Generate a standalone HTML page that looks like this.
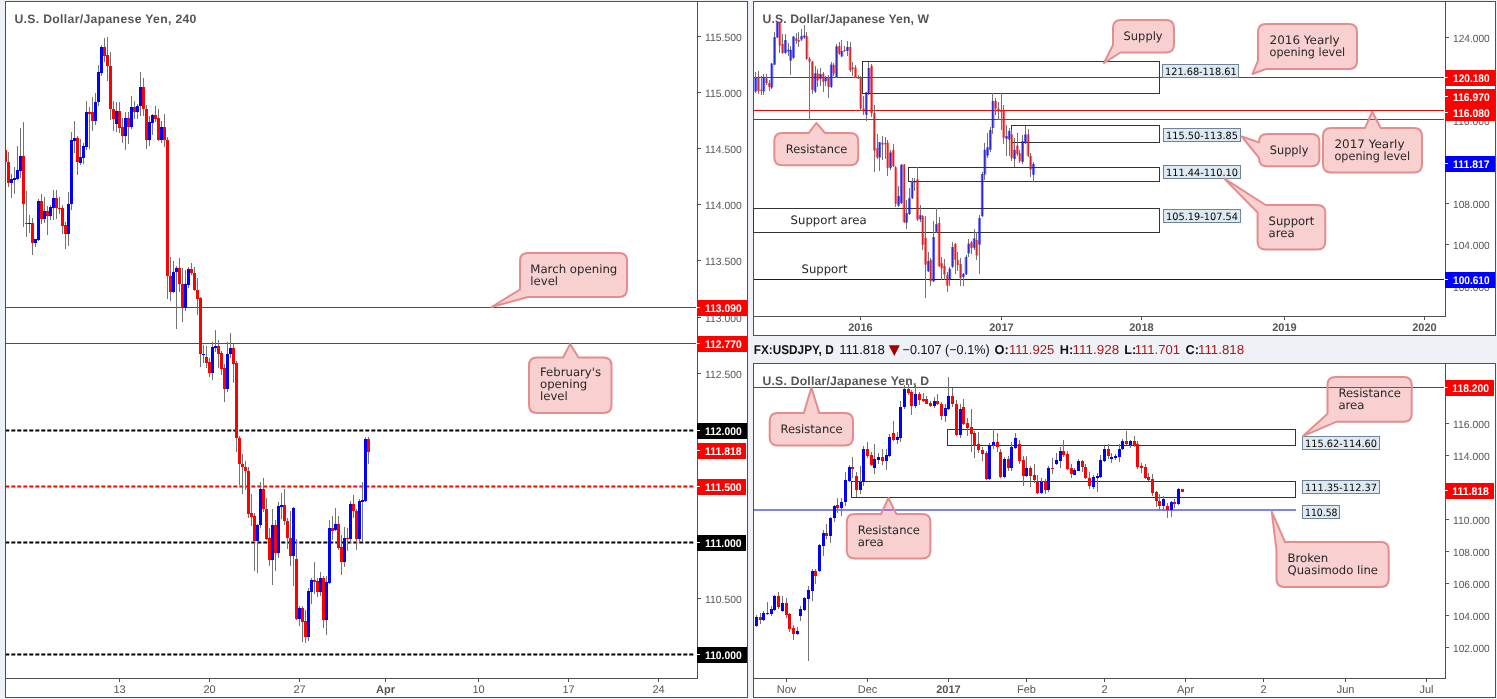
<!DOCTYPE html>
<html><head><meta charset="utf-8"><title>USDJPY charts</title>
<style>html,body{margin:0;padding:0;background:#eef2f6;}svg{display:block;will-change:transform;}</style></head>
<body><svg width="1497" height="699" viewBox="0 0 1497 699" shape-rendering="crispEdges" text-rendering="geometricPrecision">
<rect x="0" y="0" width="1497" height="699" fill="#eef2f6"/>
<defs><clipPath id="cL"><rect x="6" y="2" width="691" height="676"/></clipPath><clipPath id="cTR"><rect x="754" y="2" width="691" height="314"/></clipPath><clipPath id="cBR"><rect x="754" y="364" width="691" height="314"/></clipPath></defs>
<rect x="5" y="1" width="743" height="697" fill="#ffffff"/>
<rect x="5" y="1" width="743" height="1" fill="#505050"/>
<rect x="5" y="697" width="743" height="1" fill="#505050"/>
<rect x="5" y="1" width="1" height="697" fill="#505050"/>
<rect x="747" y="1" width="1" height="697" fill="#505050"/>
<text x="14.4" y="23" font-size="12.2" fill="#555555" font-weight="bold" textLength="182" lengthAdjust="spacing" font-family="'Liberation Sans', Arial, sans-serif">U.S. Dollar/Japanese Yen, 240</text>
<rect x="697" y="1" width="1" height="678" fill="#505050"/>
<rect x="5" y="678" width="693" height="1" fill="#505050"/>
<rect x="698" y="654" width="3" height="1" fill="#505050"/>
<text x="705" y="658.5" font-size="10.5" fill="#555555" textLength="36.7" lengthAdjust="spacingAndGlyphs" font-family="'Liberation Sans', Arial, sans-serif">110.000</text>
<rect x="698" y="598" width="3" height="1" fill="#505050"/>
<text x="705" y="602.5" font-size="10.5" fill="#555555" textLength="36.7" lengthAdjust="spacingAndGlyphs" font-family="'Liberation Sans', Arial, sans-serif">110.500</text>
<rect x="698" y="542" width="3" height="1" fill="#505050"/>
<text x="705" y="546.5" font-size="10.5" fill="#555555" textLength="36.7" lengthAdjust="spacingAndGlyphs" font-family="'Liberation Sans', Arial, sans-serif">111.000</text>
<rect x="698" y="485" width="3" height="1" fill="#505050"/>
<text x="705" y="489.5" font-size="10.5" fill="#555555" textLength="36.7" lengthAdjust="spacingAndGlyphs" font-family="'Liberation Sans', Arial, sans-serif">111.500</text>
<rect x="698" y="429" width="3" height="1" fill="#505050"/>
<text x="705" y="433.5" font-size="10.5" fill="#555555" textLength="36.7" lengthAdjust="spacingAndGlyphs" font-family="'Liberation Sans', Arial, sans-serif">112.000</text>
<rect x="698" y="373" width="3" height="1" fill="#505050"/>
<text x="705" y="377.5" font-size="10.5" fill="#555555" textLength="36.7" lengthAdjust="spacingAndGlyphs" font-family="'Liberation Sans', Arial, sans-serif">112.500</text>
<rect x="698" y="317" width="3" height="1" fill="#505050"/>
<text x="705" y="321.5" font-size="10.5" fill="#555555" textLength="36.7" lengthAdjust="spacingAndGlyphs" font-family="'Liberation Sans', Arial, sans-serif">113.000</text>
<rect x="698" y="260" width="3" height="1" fill="#505050"/>
<text x="705" y="264.5" font-size="10.5" fill="#555555" textLength="36.7" lengthAdjust="spacingAndGlyphs" font-family="'Liberation Sans', Arial, sans-serif">113.500</text>
<rect x="698" y="204" width="3" height="1" fill="#505050"/>
<text x="705" y="208.5" font-size="10.5" fill="#555555" textLength="36.7" lengthAdjust="spacingAndGlyphs" font-family="'Liberation Sans', Arial, sans-serif">114.000</text>
<rect x="698" y="148" width="3" height="1" fill="#505050"/>
<text x="705" y="152.5" font-size="10.5" fill="#555555" textLength="36.7" lengthAdjust="spacingAndGlyphs" font-family="'Liberation Sans', Arial, sans-serif">114.500</text>
<rect x="698" y="92" width="3" height="1" fill="#505050"/>
<text x="705" y="96.5" font-size="10.5" fill="#555555" textLength="36.7" lengthAdjust="spacingAndGlyphs" font-family="'Liberation Sans', Arial, sans-serif">115.000</text>
<rect x="698" y="36" width="3" height="1" fill="#505050"/>
<text x="705" y="40.5" font-size="10.5" fill="#555555" textLength="36.7" lengthAdjust="spacingAndGlyphs" font-family="'Liberation Sans', Arial, sans-serif">115.500</text>
<rect x="119" y="679" width="1" height="3" fill="#505050"/>
<text x="119.5" y="692.6" font-size="11" fill="#555555" text-anchor="middle" font-family="'Liberation Sans', Arial, sans-serif">13</text>
<rect x="209" y="679" width="1" height="3" fill="#505050"/>
<text x="209.5" y="692.6" font-size="11" fill="#555555" text-anchor="middle" font-family="'Liberation Sans', Arial, sans-serif">20</text>
<rect x="299" y="679" width="1" height="3" fill="#505050"/>
<text x="299.5" y="692.6" font-size="11" fill="#555555" text-anchor="middle" font-family="'Liberation Sans', Arial, sans-serif">27</text>
<rect x="385" y="679" width="1" height="3" fill="#505050"/>
<text x="385.5" y="692.6" font-size="11" fill="#555555" font-weight="bold" text-anchor="middle" font-family="'Liberation Sans', Arial, sans-serif">Apr</text>
<rect x="478" y="679" width="1" height="3" fill="#505050"/>
<text x="478.5" y="692.6" font-size="11" fill="#555555" text-anchor="middle" font-family="'Liberation Sans', Arial, sans-serif">10</text>
<rect x="568" y="679" width="1" height="3" fill="#505050"/>
<text x="568.5" y="692.6" font-size="11" fill="#555555" text-anchor="middle" font-family="'Liberation Sans', Arial, sans-serif">17</text>
<rect x="658" y="679" width="1" height="3" fill="#505050"/>
<text x="658.5" y="692.6" font-size="11" fill="#555555" text-anchor="middle" font-family="'Liberation Sans', Arial, sans-serif">24</text>
<rect x="6" y="307" width="690" height="1" fill="#ff0000"/>
<rect x="6" y="343" width="690" height="1" fill="#ff0000"/>
<line x1="-0.7" y1="430.5" x2="694.5" y2="430.5" stroke="#000000" stroke-width="2" stroke-dasharray="4 2" shape-rendering="geometricPrecision" clip-path="url(#cL)"/>
<line x1="-0.7" y1="542.5" x2="694.5" y2="542.5" stroke="#000000" stroke-width="2" stroke-dasharray="4 2" shape-rendering="geometricPrecision" clip-path="url(#cL)"/>
<line x1="-0.7" y1="654.5" x2="694.5" y2="654.5" stroke="#000000" stroke-width="2" stroke-dasharray="4 2" shape-rendering="geometricPrecision" clip-path="url(#cL)"/>
<line x1="-0.7" y1="486.5" x2="694.5" y2="486.5" stroke="#ff0000" stroke-width="2" stroke-dasharray="4 2" shape-rendering="geometricPrecision" clip-path="url(#cL)"/>
<g clip-path="url(#cL)">
<rect x="5.00" y="147" width="1" height="16" fill="#737373"/>
<rect x="8.00" y="152" width="1" height="35" fill="#737373"/>
<rect x="11.00" y="173.5" width="1" height="24.0" fill="#737373"/>
<rect x="14.00" y="167" width="1" height="26.599999999999994" fill="#737373"/>
<rect x="17.00" y="146" width="1" height="34" fill="#737373"/>
<rect x="20.00" y="128.2" width="1" height="49.80000000000001" fill="#737373"/>
<rect x="23.00" y="122.1" width="1" height="104.70000000000002" fill="#737373"/>
<rect x="26.00" y="191" width="1" height="45.599999999999994" fill="#737373"/>
<rect x="29.00" y="215" width="1" height="17.80000000000001" fill="#737373"/>
<rect x="32.00" y="218" width="1" height="36.80000000000001" fill="#737373"/>
<rect x="35.00" y="238.8" width="1" height="7.699999999999989" fill="#737373"/>
<rect x="38.00" y="199.3" width="1" height="41.19999999999999" fill="#737373"/>
<rect x="41.00" y="194" width="1" height="30" fill="#737373"/>
<rect x="44.00" y="197" width="1" height="25.5" fill="#737373"/>
<rect x="47.00" y="206" width="1" height="29" fill="#737373"/>
<rect x="50.00" y="205" width="1" height="15" fill="#737373"/>
<rect x="53.00" y="189.5" width="1" height="30.5" fill="#737373"/>
<rect x="56.00" y="190" width="1" height="28.69999999999999" fill="#737373"/>
<rect x="59.00" y="197" width="1" height="16.900000000000006" fill="#737373"/>
<rect x="62.00" y="205" width="1" height="28.599999999999994" fill="#737373"/>
<rect x="65.00" y="222" width="1" height="27" fill="#737373"/>
<rect x="68.00" y="192.4" width="1" height="53.29999999999998" fill="#737373"/>
<rect x="71.00" y="132.1" width="1" height="78.30000000000001" fill="#737373"/>
<rect x="74.00" y="121" width="1" height="31.80000000000001" fill="#737373"/>
<rect x="77.00" y="136" width="1" height="39" fill="#737373"/>
<rect x="80.00" y="139" width="1" height="26" fill="#737373"/>
<rect x="83.00" y="142.5" width="1" height="21.5" fill="#737373"/>
<rect x="86.00" y="100.7" width="1" height="49.3" fill="#737373"/>
<rect x="89.00" y="107.3" width="1" height="41.2" fill="#737373"/>
<rect x="92.00" y="97" width="1" height="34.30000000000001" fill="#737373"/>
<rect x="95.00" y="93.2" width="1" height="31.599999999999994" fill="#737373"/>
<rect x="98.00" y="65.2" width="1" height="41.2" fill="#737373"/>
<rect x="101.00" y="44.6" width="1" height="31.800000000000004" fill="#737373"/>
<rect x="104.00" y="37.7" width="1" height="24.299999999999997" fill="#737373"/>
<rect x="107.00" y="36.9" width="1" height="43.699999999999996" fill="#737373"/>
<rect x="110.00" y="52" width="1" height="68.1" fill="#737373"/>
<rect x="113.00" y="100.7" width="1" height="30.60000000000001" fill="#737373"/>
<rect x="116.00" y="101.8" width="1" height="30.299999999999997" fill="#737373"/>
<rect x="119.00" y="102.1" width="1" height="30.900000000000006" fill="#737373"/>
<rect x="122.00" y="117.9" width="1" height="25.400000000000006" fill="#737373"/>
<rect x="125.00" y="112" width="1" height="38" fill="#737373"/>
<rect x="128.00" y="112" width="1" height="32.19999999999999" fill="#737373"/>
<rect x="131.00" y="96.1" width="1" height="32.599999999999994" fill="#737373"/>
<rect x="134.00" y="101.2" width="1" height="17.799999999999997" fill="#737373"/>
<rect x="137.00" y="104.2" width="1" height="15.099999999999994" fill="#737373"/>
<rect x="140.00" y="72" width="1" height="43.8" fill="#737373"/>
<rect x="143.00" y="78" width="1" height="37.8" fill="#737373"/>
<rect x="146.00" y="104.7" width="1" height="43.8" fill="#737373"/>
<rect x="149.00" y="116.3" width="1" height="29.700000000000003" fill="#737373"/>
<rect x="152.00" y="114" width="1" height="21.19999999999999" fill="#737373"/>
<rect x="155.00" y="106" width="1" height="16.299999999999997" fill="#737373"/>
<rect x="158.00" y="108.9" width="1" height="32.0" fill="#737373"/>
<rect x="161.00" y="121" width="1" height="21.900000000000006" fill="#737373"/>
<rect x="164.00" y="114" width="1" height="32.69999999999999" fill="#737373"/>
<rect x="167.00" y="136.9" width="1" height="162.1" fill="#737373"/>
<rect x="170.00" y="256.9" width="1" height="43.80000000000001" fill="#737373"/>
<rect x="173.00" y="261.2" width="1" height="31.80000000000001" fill="#737373"/>
<rect x="176.00" y="266" width="1" height="62.5" fill="#737373"/>
<rect x="179.00" y="258.1" width="1" height="33.69999999999999" fill="#737373"/>
<rect x="182.00" y="268.4" width="1" height="53.200000000000045" fill="#737373"/>
<rect x="185.00" y="270.1" width="1" height="40.89999999999998" fill="#737373"/>
<rect x="188.00" y="266.7" width="1" height="21.100000000000023" fill="#737373"/>
<rect x="191.00" y="262.9" width="1" height="12.100000000000023" fill="#737373"/>
<rect x="194.00" y="266.7" width="1" height="24.30000000000001" fill="#737373"/>
<rect x="197.00" y="278" width="1" height="36.80000000000001" fill="#737373"/>
<rect x="200.00" y="296.9" width="1" height="69.80000000000001" fill="#737373"/>
<rect x="203.00" y="345.4" width="1" height="17.200000000000045" fill="#737373"/>
<rect x="206.00" y="346.1" width="1" height="22.299999999999955" fill="#737373"/>
<rect x="209.00" y="358" width="1" height="18.69999999999999" fill="#737373"/>
<rect x="212.00" y="342.3" width="1" height="37.39999999999998" fill="#737373"/>
<rect x="215.00" y="330" width="1" height="21.80000000000001" fill="#737373"/>
<rect x="218.00" y="340.3" width="1" height="27.80000000000001" fill="#737373"/>
<rect x="221.00" y="351" width="1" height="23.600000000000023" fill="#737373"/>
<rect x="224.00" y="364.3" width="1" height="37.19999999999999" fill="#737373"/>
<rect x="227.00" y="342" width="1" height="49.80000000000001" fill="#737373"/>
<rect x="230.00" y="332.9" width="1" height="24.900000000000034" fill="#737373"/>
<rect x="233.00" y="343.7" width="1" height="39.0" fill="#737373"/>
<rect x="236.00" y="361" width="1" height="90.5" fill="#737373"/>
<rect x="239.00" y="436" width="1" height="49" fill="#737373"/>
<rect x="242.00" y="454" width="1" height="40.39999999999998" fill="#737373"/>
<rect x="245.00" y="461.2" width="1" height="29.19999999999999" fill="#737373"/>
<rect x="248.00" y="466.9" width="1" height="50.700000000000045" fill="#737373"/>
<rect x="251.00" y="494.4" width="1" height="31.700000000000045" fill="#737373"/>
<rect x="254.00" y="513.3" width="1" height="57.60000000000002" fill="#737373"/>
<rect x="257.00" y="523.6" width="1" height="49.0" fill="#737373"/>
<rect x="260.00" y="481.5" width="1" height="46.5" fill="#737373"/>
<rect x="263.00" y="478.4" width="1" height="33.60000000000002" fill="#737373"/>
<rect x="266.00" y="498.3" width="1" height="41.69999999999999" fill="#737373"/>
<rect x="269.00" y="528.2" width="1" height="38.19999999999993" fill="#737373"/>
<rect x="272.00" y="509.3" width="1" height="75.30000000000001" fill="#737373"/>
<rect x="275.00" y="520" width="1" height="50.89999999999998" fill="#737373"/>
<rect x="278.00" y="502.1" width="1" height="56.19999999999993" fill="#737373"/>
<rect x="281.00" y="493.2" width="1" height="26.099999999999966" fill="#737373"/>
<rect x="284.00" y="489.2" width="1" height="35.80000000000001" fill="#737373"/>
<rect x="287.00" y="517.9" width="1" height="30.600000000000023" fill="#737373"/>
<rect x="290.00" y="511" width="1" height="55" fill="#737373"/>
<rect x="293.00" y="507" width="1" height="78.79999999999995" fill="#737373"/>
<rect x="296.00" y="539.4" width="1" height="80.60000000000002" fill="#737373"/>
<rect x="299.00" y="605.5" width="1" height="20.600000000000023" fill="#737373"/>
<rect x="302.00" y="606" width="1" height="35.89999999999998" fill="#737373"/>
<rect x="305.00" y="609.8" width="1" height="33.200000000000045" fill="#737373"/>
<rect x="308.00" y="588" width="1" height="53.200000000000045" fill="#737373"/>
<rect x="311.00" y="578.4" width="1" height="25.399999999999977" fill="#737373"/>
<rect x="314.00" y="561.8" width="1" height="31.700000000000045" fill="#737373"/>
<rect x="317.00" y="578" width="1" height="19" fill="#737373"/>
<rect x="320.00" y="572" width="1" height="24" fill="#737373"/>
<rect x="323.00" y="576.4" width="1" height="51.5" fill="#737373"/>
<rect x="326.00" y="576" width="1" height="58.700000000000045" fill="#737373"/>
<rect x="329.00" y="520" width="1" height="64" fill="#737373"/>
<rect x="332.00" y="515.8" width="1" height="23.90000000000009" fill="#737373"/>
<rect x="335.00" y="507.9" width="1" height="23.100000000000023" fill="#737373"/>
<rect x="338.00" y="516.1" width="1" height="33.39999999999998" fill="#737373"/>
<rect x="341.00" y="535.1" width="1" height="39.5" fill="#737373"/>
<rect x="344.00" y="526.5" width="1" height="40.200000000000045" fill="#737373"/>
<rect x="347.00" y="527.7" width="1" height="22.899999999999977" fill="#737373"/>
<rect x="350.00" y="500.7" width="1" height="42.50000000000006" fill="#737373"/>
<rect x="353.00" y="495.2" width="1" height="22.69999999999999" fill="#737373"/>
<rect x="356.00" y="509" width="1" height="40.5" fill="#737373"/>
<rect x="359.00" y="499.3" width="1" height="42.19999999999999" fill="#737373"/>
<rect x="362.00" y="482.1" width="1" height="60.19999999999993" fill="#737373"/>
<rect x="365.00" y="437.2" width="1" height="64.30000000000001" fill="#737373"/>
<rect x="368.00" y="437" width="1" height="26.80000000000001" fill="#737373"/>
<rect x="4.00" y="150.3" width="3" height="11.199999999999989" fill="#ff0000"/>
<rect x="7.00" y="161.5" width="3" height="21.099999999999994" fill="#ff0000"/>
<rect x="10.00" y="179" width="3" height="3.5999999999999943" fill="#0000ff"/>
<rect x="13.00" y="178" width="3" height="2" fill="#0000ff"/>
<rect x="16.00" y="170" width="3" height="8.699999999999989" fill="#0000ff"/>
<rect x="19.00" y="156" width="3" height="14.599999999999994" fill="#0000ff"/>
<rect x="22.00" y="156" width="3" height="47.599999999999994" fill="#ff0000"/>
<rect x="25.00" y="222.5" width="3" height="1.5" fill="#ff0000"/>
<rect x="28.00" y="223.3" width="3" height="1" fill="#0000ff"/>
<rect x="31.00" y="223.3" width="3" height="19.399999999999977" fill="#ff0000"/>
<rect x="34.00" y="239.3" width="3" height="3.3999999999999773" fill="#0000ff"/>
<rect x="37.00" y="201" width="3" height="38.599999999999994" fill="#0000ff"/>
<rect x="40.00" y="201" width="3" height="18" fill="#ff0000"/>
<rect x="43.00" y="211" width="3" height="8" fill="#0000ff"/>
<rect x="46.00" y="211" width="3" height="4.599999999999994" fill="#ff0000"/>
<rect x="49.00" y="207" width="3" height="8.599999999999994" fill="#0000ff"/>
<rect x="52.00" y="198" width="3" height="9.900000000000006" fill="#0000ff"/>
<rect x="55.00" y="198" width="3" height="10.400000000000006" fill="#ff0000"/>
<rect x="58.00" y="207.9" width="3" height="1" fill="#ff0000"/>
<rect x="61.00" y="208.4" width="3" height="17.19999999999999" fill="#ff0000"/>
<rect x="64.00" y="225" width="3" height="8.599999999999994" fill="#ff0000"/>
<rect x="67.00" y="204.4" width="3" height="29.19999999999999" fill="#0000ff"/>
<rect x="70.00" y="139.9" width="3" height="64.5" fill="#0000ff"/>
<rect x="73.00" y="138.2" width="3" height="2.5" fill="#0000ff"/>
<rect x="76.00" y="138.2" width="3" height="24.100000000000023" fill="#ff0000"/>
<rect x="79.00" y="157" width="3" height="5.699999999999989" fill="#0000ff"/>
<rect x="82.00" y="146.4" width="3" height="11.299999999999983" fill="#0000ff"/>
<rect x="85.00" y="112" width="3" height="34.80000000000001" fill="#0000ff"/>
<rect x="88.00" y="112.4" width="3" height="1.3999999999999915" fill="#ff0000"/>
<rect x="91.00" y="112" width="3" height="9" fill="#ff0000"/>
<rect x="94.00" y="102.1" width="3" height="18.900000000000006" fill="#0000ff"/>
<rect x="97.00" y="72" width="3" height="30.400000000000006" fill="#0000ff"/>
<rect x="100.00" y="46.8" width="3" height="25.799999999999997" fill="#0000ff"/>
<rect x="103.00" y="46.8" width="3" height="9.0" fill="#ff0000"/>
<rect x="106.00" y="54.9" width="3" height="11.500000000000007" fill="#ff0000"/>
<rect x="109.00" y="66" width="3" height="43.3" fill="#ff0000"/>
<rect x="112.00" y="109" width="3" height="9.900000000000006" fill="#ff0000"/>
<rect x="115.00" y="111" width="3" height="13.400000000000006" fill="#0000ff"/>
<rect x="118.00" y="111" width="3" height="16.900000000000006" fill="#ff0000"/>
<rect x="121.00" y="127" width="3" height="9.400000000000006" fill="#ff0000"/>
<rect x="124.00" y="117.9" width="3" height="18.5" fill="#0000ff"/>
<rect x="127.00" y="117.9" width="3" height="8.599999999999994" fill="#ff0000"/>
<rect x="130.00" y="106.9" width="3" height="19.599999999999994" fill="#0000ff"/>
<rect x="133.00" y="106.9" width="3" height="5.5" fill="#ff0000"/>
<rect x="136.00" y="106" width="3" height="6.400000000000006" fill="#0000ff"/>
<rect x="139.00" y="87" width="3" height="19.400000000000006" fill="#0000ff"/>
<rect x="142.00" y="87" width="3" height="22.299999999999997" fill="#ff0000"/>
<rect x="145.00" y="109" width="3" height="30.900000000000006" fill="#ff0000"/>
<rect x="148.00" y="122" width="3" height="17.900000000000006" fill="#0000ff"/>
<rect x="151.00" y="115.1" width="3" height="7.6000000000000085" fill="#0000ff"/>
<rect x="154.00" y="115.1" width="3" height="3.4000000000000057" fill="#ff0000"/>
<rect x="157.00" y="118" width="3" height="21.80000000000001" fill="#ff0000"/>
<rect x="160.00" y="127" width="3" height="12.800000000000011" fill="#0000ff"/>
<rect x="163.00" y="127" width="3" height="13.300000000000011" fill="#ff0000"/>
<rect x="166.00" y="140" width="3" height="136.3" fill="#ff0000"/>
<rect x="169.00" y="276.3" width="3" height="15.5" fill="#ff0000"/>
<rect x="172.00" y="272.4" width="3" height="19.400000000000034" fill="#0000ff"/>
<rect x="175.00" y="268.4" width="3" height="4.0" fill="#0000ff"/>
<rect x="178.00" y="268.4" width="3" height="15.100000000000023" fill="#ff0000"/>
<rect x="181.00" y="283.5" width="3" height="24.100000000000023" fill="#ff0000"/>
<rect x="184.00" y="284.4" width="3" height="23.200000000000045" fill="#0000ff"/>
<rect x="187.00" y="269.4" width="3" height="15.5" fill="#0000ff"/>
<rect x="190.00" y="269.4" width="3" height="3.8000000000000114" fill="#ff0000"/>
<rect x="193.00" y="273.2" width="3" height="16.30000000000001" fill="#ff0000"/>
<rect x="196.00" y="289.5" width="3" height="9.100000000000023" fill="#ff0000"/>
<rect x="199.00" y="298.1" width="3" height="56.19999999999999" fill="#ff0000"/>
<rect x="202.00" y="354" width="3" height="1" fill="#0000ff"/>
<rect x="205.00" y="356.9" width="3" height="5.7000000000000455" fill="#ff0000"/>
<rect x="208.00" y="362" width="3" height="10.899999999999977" fill="#ff0000"/>
<rect x="211.00" y="347.1" width="3" height="25.799999999999955" fill="#0000ff"/>
<rect x="214.00" y="346.1" width="3" height="1.3999999999999773" fill="#0000ff"/>
<rect x="217.00" y="346.1" width="3" height="7.399999999999977" fill="#ff0000"/>
<rect x="220.00" y="353" width="3" height="15.899999999999977" fill="#ff0000"/>
<rect x="223.00" y="368.4" width="3" height="20.600000000000023" fill="#ff0000"/>
<rect x="226.00" y="354" width="3" height="35" fill="#0000ff"/>
<rect x="229.00" y="347.8" width="3" height="6.5" fill="#0000ff"/>
<rect x="232.00" y="347.8" width="3" height="16.0" fill="#ff0000"/>
<rect x="235.00" y="362.9" width="3" height="75.30000000000001" fill="#ff0000"/>
<rect x="238.00" y="437.7" width="3" height="25.80000000000001" fill="#ff0000"/>
<rect x="241.00" y="463.5" width="3" height="3.8999999999999773" fill="#ff0000"/>
<rect x="244.00" y="466.9" width="3" height="4.300000000000011" fill="#ff0000"/>
<rect x="247.00" y="471.2" width="3" height="42.599999999999966" fill="#ff0000"/>
<rect x="250.00" y="513.3" width="3" height="3.400000000000091" fill="#ff0000"/>
<rect x="253.00" y="516.2" width="3" height="24.5" fill="#ff0000"/>
<rect x="256.00" y="525.3" width="3" height="15.400000000000091" fill="#0000ff"/>
<rect x="259.00" y="489.2" width="3" height="36.099999999999966" fill="#0000ff"/>
<rect x="262.00" y="489.2" width="3" height="20.100000000000023" fill="#ff0000"/>
<rect x="265.00" y="509" width="3" height="29.5" fill="#ff0000"/>
<rect x="268.00" y="538.2" width="3" height="21.299999999999955" fill="#ff0000"/>
<rect x="271.00" y="524.8" width="3" height="34.700000000000045" fill="#0000ff"/>
<rect x="274.00" y="524.8" width="3" height="27.90000000000009" fill="#ff0000"/>
<rect x="277.00" y="505.9" width="3" height="46.80000000000007" fill="#0000ff"/>
<rect x="280.00" y="505.2" width="3" height="1.6999999999999886" fill="#0000ff"/>
<rect x="283.00" y="505.2" width="3" height="16.099999999999966" fill="#ff0000"/>
<rect x="286.00" y="521" width="3" height="17.200000000000045" fill="#ff0000"/>
<rect x="289.00" y="538.2" width="3" height="17.59999999999991" fill="#ff0000"/>
<rect x="292.00" y="508" width="3" height="47.799999999999955" fill="#0000ff"/>
<rect x="295.00" y="559.2" width="3" height="59.69999999999993" fill="#ff0000"/>
<rect x="298.00" y="608.1" width="3" height="10.799999999999955" fill="#0000ff"/>
<rect x="301.00" y="608.1" width="3" height="13.699999999999932" fill="#ff0000"/>
<rect x="304.00" y="621.3" width="3" height="15.5" fill="#ff0000"/>
<rect x="307.00" y="591" width="3" height="45.799999999999955" fill="#0000ff"/>
<rect x="310.00" y="580.1" width="3" height="11.699999999999932" fill="#0000ff"/>
<rect x="313.00" y="580.1" width="3" height="1.3999999999999773" fill="#ff0000"/>
<rect x="316.00" y="581.2" width="3" height="10.599999999999909" fill="#ff0000"/>
<rect x="319.00" y="578" width="3" height="13.5" fill="#0000ff"/>
<rect x="322.00" y="578" width="3" height="41.60000000000002" fill="#ff0000"/>
<rect x="325.00" y="582.4" width="3" height="37.200000000000045" fill="#0000ff"/>
<rect x="328.00" y="527.8" width="3" height="54.90000000000009" fill="#0000ff"/>
<rect x="331.00" y="527.8" width="3" height="2.7000000000000455" fill="#ff0000"/>
<rect x="334.00" y="524.3" width="3" height="6.0" fill="#0000ff"/>
<rect x="337.00" y="524.3" width="3" height="23.200000000000045" fill="#ff0000"/>
<rect x="340.00" y="547.1" width="3" height="14.399999999999977" fill="#ff0000"/>
<rect x="343.00" y="538" width="3" height="23.5" fill="#0000ff"/>
<rect x="346.00" y="538" width="3" height="1" fill="#ff0000"/>
<rect x="349.00" y="504.1" width="3" height="34.39999999999998" fill="#0000ff"/>
<rect x="352.00" y="504.1" width="3" height="7.199999999999989" fill="#ff0000"/>
<rect x="355.00" y="511" width="3" height="27.5" fill="#ff0000"/>
<rect x="358.00" y="501" width="3" height="37.5" fill="#0000ff"/>
<rect x="361.00" y="500.3" width="3" height="1.1999999999999886" fill="#0000ff"/>
<rect x="364.00" y="438.9" width="3" height="61.80000000000001" fill="#0000ff"/>
<rect x="367.00" y="438.9" width="3" height="12.900000000000034" fill="#ff0000"/>
</g>
<path d="M528,253 L619,253 Q627,253 627,261 L627,289 Q627,297 619,297 L528,297 L491.6,307 L520,289.5 L520,261 Q520,253 528,253 Z" fill="rgba(232,100,100,0.30)" stroke="#e58d8d" stroke-width="2" stroke-linejoin="round" shape-rendering="geometricPrecision"/>
<text x="530.3" y="272.7" font-size="11.7" fill="#262626" textLength="87" lengthAdjust="spacingAndGlyphs" font-family="'DejaVu Sans', Verdana, sans-serif">March opening</text>
<text x="530.3" y="284.7" font-size="11.7" fill="#262626" font-family="'DejaVu Sans', Verdana, sans-serif">level</text>
<path d="M537,357.5 L563,357.5 L570.2,344 L578.5,357.5 L603.5,357.5 Q611.5,357.5 611.5,365.5 L611.5,405 Q611.5,413 603.5,413 L537,413 Q529,413 529,405 L529,365.5 Q529,357.5 537,357.5 Z" fill="rgba(232,100,100,0.30)" stroke="#e58d8d" stroke-width="2" stroke-linejoin="round" shape-rendering="geometricPrecision"/>
<text x="540" y="376" font-size="11.7" fill="#262626" font-family="'DejaVu Sans', Verdana, sans-serif">February's</text>
<text x="540" y="388" font-size="11.7" fill="#262626" font-family="'DejaVu Sans', Verdana, sans-serif">opening</text>
<text x="540" y="400" font-size="11.7" fill="#262626" font-family="'DejaVu Sans', Verdana, sans-serif">level</text>
<rect x="697" y="300" width="50" height="16" fill="#ff0000"/>
<rect x="697" y="307" width="3" height="1" fill="#ffffff"/>
<text x="705" y="311.8" font-size="11" fill="#ffffff" font-weight="bold" textLength="36.6" lengthAdjust="spacingAndGlyphs" font-family="'Liberation Sans', Arial, sans-serif">113.090</text>
<rect x="697" y="336" width="50" height="16" fill="#ff0000"/>
<rect x="697" y="343" width="3" height="1" fill="#ffffff"/>
<text x="705" y="347.8" font-size="11" fill="#ffffff" font-weight="bold" textLength="36.6" lengthAdjust="spacingAndGlyphs" font-family="'Liberation Sans', Arial, sans-serif">112.770</text>
<rect x="697" y="423" width="50" height="16" fill="#000000"/>
<rect x="697" y="430" width="3" height="1" fill="#ffffff"/>
<text x="705" y="434.8" font-size="11" fill="#ffffff" font-weight="bold" textLength="36.6" lengthAdjust="spacingAndGlyphs" font-family="'Liberation Sans', Arial, sans-serif">112.000</text>
<rect x="697" y="443" width="49" height="16" fill="#ff0000"/>
<rect x="697" y="450" width="3" height="1" fill="#ffffff"/>
<text x="705" y="454.8" font-size="11" fill="#ffffff" font-weight="bold" textLength="36.6" lengthAdjust="spacingAndGlyphs" font-family="'Liberation Sans', Arial, sans-serif">111.818</text>
<rect x="697" y="479" width="49" height="16" fill="#ff0000"/>
<rect x="697" y="486" width="3" height="1" fill="#ffffff"/>
<text x="705" y="490.8" font-size="11" fill="#ffffff" font-weight="bold" textLength="36.6" lengthAdjust="spacingAndGlyphs" font-family="'Liberation Sans', Arial, sans-serif">111.500</text>
<rect x="697" y="535" width="49" height="16" fill="#000000"/>
<rect x="697" y="542" width="3" height="1" fill="#ffffff"/>
<text x="705" y="546.8" font-size="11" fill="#ffffff" font-weight="bold" textLength="36.6" lengthAdjust="spacingAndGlyphs" font-family="'Liberation Sans', Arial, sans-serif">111.000</text>
<rect x="697" y="647" width="50" height="16" fill="#000000"/>
<rect x="697" y="654" width="3" height="1" fill="#ffffff"/>
<text x="705" y="658.8" font-size="11" fill="#ffffff" font-weight="bold" textLength="36.6" lengthAdjust="spacingAndGlyphs" font-family="'Liberation Sans', Arial, sans-serif">110.000</text>
<rect x="753" y="1" width="743" height="335" fill="#ffffff"/>
<rect x="753" y="1" width="743" height="1" fill="#505050"/>
<rect x="753" y="335" width="743" height="1" fill="#505050"/>
<rect x="753" y="1" width="1" height="335" fill="#505050"/>
<rect x="1495" y="1" width="1" height="335" fill="#505050"/>
<text x="762.5" y="23" font-size="12.2" fill="#555555" font-weight="bold" textLength="166.5" lengthAdjust="spacing" font-family="'Liberation Sans', Arial, sans-serif">U.S. Dollar/Japanese Yen, W</text>
<rect x="1445" y="1" width="1" height="316" fill="#505050"/>
<rect x="753" y="316" width="693" height="1" fill="#505050"/>
<rect x="1446" y="37" width="3" height="1" fill="#505050"/>
<text x="1453" y="41.5" font-size="10.5" fill="#555555" textLength="36.7" lengthAdjust="spacingAndGlyphs" font-family="'Liberation Sans', Arial, sans-serif">124.000</text>
<rect x="1446" y="78" width="3" height="1" fill="#505050"/>
<text x="1453" y="82.5" font-size="10.5" fill="#555555" textLength="36.7" lengthAdjust="spacingAndGlyphs" font-family="'Liberation Sans', Arial, sans-serif">120.000</text>
<rect x="1446" y="120" width="3" height="1" fill="#505050"/>
<text x="1453" y="124.5" font-size="10.5" fill="#555555" textLength="36.7" lengthAdjust="spacingAndGlyphs" font-family="'Liberation Sans', Arial, sans-serif">116.000</text>
<rect x="1446" y="161" width="3" height="1" fill="#505050"/>
<text x="1453" y="165.5" font-size="10.5" fill="#555555" textLength="36.7" lengthAdjust="spacingAndGlyphs" font-family="'Liberation Sans', Arial, sans-serif">112.000</text>
<rect x="1446" y="203" width="3" height="1" fill="#505050"/>
<text x="1453" y="207.5" font-size="10.5" fill="#555555" textLength="36.7" lengthAdjust="spacingAndGlyphs" font-family="'Liberation Sans', Arial, sans-serif">108.000</text>
<rect x="1446" y="244" width="3" height="1" fill="#505050"/>
<text x="1453" y="248.5" font-size="10.5" fill="#555555" textLength="36.7" lengthAdjust="spacingAndGlyphs" font-family="'Liberation Sans', Arial, sans-serif">104.000</text>
<rect x="1446" y="286" width="3" height="1" fill="#505050"/>
<text x="1453" y="290.5" font-size="10.5" fill="#555555" textLength="36.7" lengthAdjust="spacingAndGlyphs" font-family="'Liberation Sans', Arial, sans-serif">100.000</text>
<rect x="860" y="317" width="1" height="3" fill="#505050"/>
<text x="860.5" y="330.6" font-size="11" fill="#555555" font-weight="bold" text-anchor="middle" font-family="'Liberation Sans', Arial, sans-serif">2016</text>
<rect x="1001" y="317" width="1" height="3" fill="#505050"/>
<text x="1001.5" y="330.6" font-size="11" fill="#555555" font-weight="bold" text-anchor="middle" font-family="'Liberation Sans', Arial, sans-serif">2017</text>
<rect x="1141" y="317" width="1" height="3" fill="#505050"/>
<text x="1141.5" y="330.6" font-size="11" fill="#555555" font-weight="bold" text-anchor="middle" font-family="'Liberation Sans', Arial, sans-serif">2018</text>
<rect x="1284" y="317" width="1" height="3" fill="#505050"/>
<text x="1284.5" y="330.6" font-size="11" fill="#555555" font-weight="bold" text-anchor="middle" font-family="'Liberation Sans', Arial, sans-serif">2019</text>
<rect x="1424" y="317" width="1" height="3" fill="#505050"/>
<text x="1424.5" y="330.6" font-size="11" fill="#555555" font-weight="bold" text-anchor="middle" font-family="'Liberation Sans', Arial, sans-serif">2020</text>
<rect x="862.5" y="61.5" width="297" height="32" fill="none" stroke="#333333" stroke-width="1"/>
<rect x="1011.5" y="125.5" width="148" height="17" fill="none" stroke="#333333" stroke-width="1"/>
<rect x="908.5" y="167.5" width="251" height="14" fill="none" stroke="#333333" stroke-width="1"/>
<rect x="753.5" y="208.5" width="406" height="24" fill="none" stroke="#333333" stroke-width="1"/>
<rect x="754" y="77" width="690" height="1" fill="#ff0000"/>
<rect x="754" y="110" width="690" height="1" fill="#ff0000"/>
<rect x="754" y="119" width="690" height="1" fill="#ff0000"/>
<rect x="754" y="279" width="690" height="1" fill="#0000ff"/>
<g clip-path="url(#cTR)" shape-rendering="geometricPrecision">
<rect x="755.00" y="71.8" width="1" height="21.200000000000003" fill="#737373" shape-rendering="crispEdges"/>
<rect x="758.00" y="70.9" width="1" height="22.89999999999999" fill="#737373" shape-rendering="crispEdges"/>
<rect x="761.00" y="76.1" width="1" height="18.400000000000006" fill="#737373" shape-rendering="crispEdges"/>
<rect x="763.00" y="73.5" width="1" height="21.0" fill="#737373" shape-rendering="crispEdges"/>
<rect x="766.00" y="74.4" width="1" height="10.599999999999994" fill="#737373" shape-rendering="crispEdges"/>
<rect x="769.00" y="80.0" width="1" height="10.700000000000003" fill="#737373" shape-rendering="crispEdges"/>
<rect x="771.00" y="63.0" width="1" height="25.5" fill="#737373" shape-rendering="crispEdges"/>
<rect x="774.00" y="32.3" width="1" height="32.7" fill="#737373" shape-rendering="crispEdges"/>
<rect x="777.00" y="20.5" width="1" height="17.799999999999997" fill="#737373" shape-rendering="crispEdges"/>
<rect x="779.00" y="21.7" width="1" height="31.2" fill="#737373" shape-rendering="crispEdges"/>
<rect x="782.00" y="34.0" width="1" height="19.799999999999997" fill="#737373" shape-rendering="crispEdges"/>
<rect x="785.00" y="34.4" width="1" height="19.1" fill="#737373" shape-rendering="crispEdges"/>
<rect x="788.00" y="43.0" width="1" height="12.5" fill="#737373" shape-rendering="crispEdges"/>
<rect x="790.00" y="46.0" width="1" height="28.900000000000006" fill="#737373" shape-rendering="crispEdges"/>
<rect x="793.00" y="35.8" width="1" height="22.700000000000003" fill="#737373" shape-rendering="crispEdges"/>
<rect x="796.00" y="33.2" width="1" height="10.299999999999997" fill="#737373" shape-rendering="crispEdges"/>
<rect x="798.00" y="32.0" width="1" height="15.399999999999999" fill="#737373" shape-rendering="crispEdges"/>
<rect x="801.00" y="28.5" width="1" height="12.0" fill="#737373" shape-rendering="crispEdges"/>
<rect x="804.00" y="25.1" width="1" height="13.699999999999996" fill="#737373" shape-rendering="crispEdges"/>
<rect x="806.00" y="31.5" width="1" height="28.299999999999997" fill="#737373" shape-rendering="crispEdges"/>
<rect x="809.00" y="57.0" width="1" height="62.5" fill="#737373" shape-rendering="crispEdges"/>
<rect x="812.00" y="60.5" width="1" height="33.3" fill="#737373" shape-rendering="crispEdges"/>
<rect x="815.00" y="66.3" width="1" height="26.200000000000003" fill="#737373" shape-rendering="crispEdges"/>
<rect x="817.00" y="69.2" width="1" height="18.099999999999994" fill="#737373" shape-rendering="crispEdges"/>
<rect x="820.00" y="67.5" width="1" height="18.900000000000006" fill="#737373" shape-rendering="crispEdges"/>
<rect x="823.00" y="72.0" width="1" height="20.400000000000006" fill="#737373" shape-rendering="crispEdges"/>
<rect x="825.00" y="76.0" width="1" height="9.5" fill="#737373" shape-rendering="crispEdges"/>
<rect x="828.00" y="75.0" width="1" height="23.400000000000006" fill="#737373" shape-rendering="crispEdges"/>
<rect x="831.00" y="62.0" width="1" height="26.200000000000003" fill="#737373" shape-rendering="crispEdges"/>
<rect x="833.00" y="63.0" width="1" height="12.5" fill="#737373" shape-rendering="crispEdges"/>
<rect x="836.00" y="44.3" width="1" height="33.2" fill="#737373" shape-rendering="crispEdges"/>
<rect x="839.00" y="41.8" width="1" height="13.200000000000003" fill="#737373" shape-rendering="crispEdges"/>
<rect x="841.00" y="40.0" width="1" height="17.0" fill="#737373" shape-rendering="crispEdges"/>
<rect x="844.00" y="46.0" width="1" height="6.0" fill="#737373" shape-rendering="crispEdges"/>
<rect x="847.00" y="40.9" width="1" height="14.600000000000001" fill="#737373" shape-rendering="crispEdges"/>
<rect x="850.00" y="42.3" width="1" height="29.200000000000003" fill="#737373" shape-rendering="crispEdges"/>
<rect x="852.00" y="62.0" width="1" height="14.099999999999994" fill="#737373" shape-rendering="crispEdges"/>
<rect x="855.00" y="64.6" width="1" height="12.900000000000006" fill="#737373" shape-rendering="crispEdges"/>
<rect x="858.00" y="74.9" width="1" height="4.099999999999994" fill="#737373" shape-rendering="crispEdges"/>
<rect x="860.00" y="76.0" width="1" height="35.0" fill="#737373" shape-rendering="crispEdges"/>
<rect x="863.00" y="95.8" width="1" height="19.299999999999997" fill="#737373" shape-rendering="crispEdges"/>
<rect x="866.00" y="91.5" width="1" height="29.099999999999994" fill="#737373" shape-rendering="crispEdges"/>
<rect x="868.00" y="61.5" width="1" height="33.5" fill="#737373" shape-rendering="crispEdges"/>
<rect x="871.00" y="64.1" width="1" height="53.2" fill="#737373" shape-rendering="crispEdges"/>
<rect x="874.00" y="105.3" width="1" height="66.8" fill="#737373" shape-rendering="crispEdges"/>
<rect x="877.00" y="133.5" width="1" height="25.0" fill="#737373" shape-rendering="crispEdges"/>
<rect x="879.00" y="142.0" width="1" height="29.19999999999999" fill="#737373" shape-rendering="crispEdges"/>
<rect x="882.00" y="136.0" width="1" height="24.099999999999994" fill="#737373" shape-rendering="crispEdges"/>
<rect x="885.00" y="137.4" width="1" height="21.799999999999983" fill="#737373" shape-rendering="crispEdges"/>
<rect x="887.00" y="140.3" width="1" height="35.19999999999999" fill="#737373" shape-rendering="crispEdges"/>
<rect x="890.00" y="149.8" width="1" height="19.69999999999999" fill="#737373" shape-rendering="crispEdges"/>
<rect x="893.00" y="144.3" width="1" height="22.69999999999999" fill="#737373" shape-rendering="crispEdges"/>
<rect x="895.00" y="166.0" width="1" height="40.80000000000001" fill="#737373" shape-rendering="crispEdges"/>
<rect x="898.00" y="185.8" width="1" height="21.5" fill="#737373" shape-rendering="crispEdges"/>
<rect x="901.00" y="164.0" width="1" height="40.0" fill="#737373" shape-rendering="crispEdges"/>
<rect x="904.00" y="163.5" width="1" height="59.5" fill="#737373" shape-rendering="crispEdges"/>
<rect x="906.00" y="200.0" width="1" height="28.599999999999994" fill="#737373" shape-rendering="crispEdges"/>
<rect x="909.00" y="188.4" width="1" height="26.599999999999994" fill="#737373" shape-rendering="crispEdges"/>
<rect x="912.00" y="178.1" width="1" height="20.900000000000006" fill="#737373" shape-rendering="crispEdges"/>
<rect x="914.00" y="178.1" width="1" height="12.900000000000006" fill="#737373" shape-rendering="crispEdges"/>
<rect x="917.00" y="167.0" width="1" height="53.5" fill="#737373" shape-rendering="crispEdges"/>
<rect x="920.00" y="205.4" width="1" height="16.400000000000006" fill="#737373" shape-rendering="crispEdges"/>
<rect x="922.00" y="215.0" width="1" height="34.599999999999994" fill="#737373" shape-rendering="crispEdges"/>
<rect x="925.00" y="216.0" width="1" height="82.39999999999998" fill="#737373" shape-rendering="crispEdges"/>
<rect x="928.00" y="252.1" width="1" height="19.900000000000006" fill="#737373" shape-rendering="crispEdges"/>
<rect x="930.00" y="258.0" width="1" height="28.399999999999977" fill="#737373" shape-rendering="crispEdges"/>
<rect x="933.00" y="221.2" width="1" height="60.80000000000001" fill="#737373" shape-rendering="crispEdges"/>
<rect x="936.00" y="208.3" width="1" height="24.19999999999999" fill="#737373" shape-rendering="crispEdges"/>
<rect x="939.00" y="216.9" width="1" height="50.099999999999994" fill="#737373" shape-rendering="crispEdges"/>
<rect x="941.00" y="257.3" width="1" height="22.30000000000001" fill="#737373" shape-rendering="crispEdges"/>
<rect x="944.00" y="259.0" width="1" height="20.600000000000023" fill="#737373" shape-rendering="crispEdges"/>
<rect x="947.00" y="271.8" width="1" height="19.80000000000001" fill="#737373" shape-rendering="crispEdges"/>
<rect x="949.00" y="267.0" width="1" height="19.399999999999977" fill="#737373" shape-rendering="crispEdges"/>
<rect x="952.00" y="241.8" width="1" height="25.69999999999999" fill="#737373" shape-rendering="crispEdges"/>
<rect x="955.00" y="243.0" width="1" height="30.600000000000023" fill="#737373" shape-rendering="crispEdges"/>
<rect x="957.00" y="252.1" width="1" height="18.900000000000006" fill="#737373" shape-rendering="crispEdges"/>
<rect x="960.00" y="258.1" width="1" height="27.5" fill="#737373" shape-rendering="crispEdges"/>
<rect x="963.00" y="273.0" width="1" height="12.600000000000023" fill="#737373" shape-rendering="crispEdges"/>
<rect x="966.00" y="255.0" width="1" height="20.0" fill="#737373" shape-rendering="crispEdges"/>
<rect x="968.00" y="239.3" width="1" height="18.0" fill="#737373" shape-rendering="crispEdges"/>
<rect x="971.00" y="241.0" width="1" height="12.800000000000011" fill="#737373" shape-rendering="crispEdges"/>
<rect x="974.00" y="228.9" width="1" height="21.099999999999994" fill="#737373" shape-rendering="crispEdges"/>
<rect x="976.00" y="232.4" width="1" height="27.400000000000006" fill="#737373" shape-rendering="crispEdges"/>
<rect x="979.00" y="215.2" width="1" height="58.400000000000034" fill="#737373" shape-rendering="crispEdges"/>
<rect x="982.00" y="172.0" width="1" height="45.0" fill="#737373" shape-rendering="crispEdges"/>
<rect x="984.00" y="143.2" width="1" height="36.30000000000001" fill="#737373" shape-rendering="crispEdges"/>
<rect x="987.00" y="133.2" width="1" height="25.200000000000017" fill="#737373" shape-rendering="crispEdges"/>
<rect x="990.00" y="126.7" width="1" height="25.700000000000003" fill="#737373" shape-rendering="crispEdges"/>
<rect x="992.00" y="93.2" width="1" height="40.3" fill="#737373" shape-rendering="crispEdges"/>
<rect x="995.00" y="98.3" width="1" height="16.299999999999997" fill="#737373" shape-rendering="crispEdges"/>
<rect x="998.00" y="101.8" width="1" height="18.0" fill="#737373" shape-rendering="crispEdges"/>
<rect x="1001.00" y="93.2" width="1" height="36.89999999999999" fill="#737373" shape-rendering="crispEdges"/>
<rect x="1003.00" y="105.2" width="1" height="38.60000000000001" fill="#737373" shape-rendering="crispEdges"/>
<rect x="1006.00" y="124.9" width="1" height="30.900000000000006" fill="#737373" shape-rendering="crispEdges"/>
<rect x="1009.00" y="127.5" width="1" height="28.30000000000001" fill="#737373" shape-rendering="crispEdges"/>
<rect x="1011.00" y="130.0" width="1" height="31.0" fill="#737373" shape-rendering="crispEdges"/>
<rect x="1014.00" y="138.3" width="1" height="28.69999999999999" fill="#737373" shape-rendering="crispEdges"/>
<rect x="1017.00" y="132.7" width="1" height="23.30000000000001" fill="#737373" shape-rendering="crispEdges"/>
<rect x="1019.00" y="150.0" width="1" height="12.699999999999989" fill="#737373" shape-rendering="crispEdges"/>
<rect x="1022.00" y="134.9" width="1" height="28.69999999999999" fill="#737373" shape-rendering="crispEdges"/>
<rect x="1025.00" y="125.8" width="1" height="18.200000000000003" fill="#737373" shape-rendering="crispEdges"/>
<rect x="1028.00" y="129.2" width="1" height="27.80000000000001" fill="#737373" shape-rendering="crispEdges"/>
<rect x="1030.00" y="153.3" width="1" height="23.19999999999999" fill="#737373" shape-rendering="crispEdges"/>
<rect x="1033.00" y="162.0" width="1" height="19.80000000000001" fill="#737373" shape-rendering="crispEdges"/>
<rect x="754.36" y="77.8" width="2.7" height="13.700000000000003" fill="#0000ff" fill-opacity="0.62"/>
<rect x="757.06" y="76.6" width="2.7" height="14.400000000000006" fill="#ff0000" fill-opacity="0.62"/>
<rect x="759.75" y="89.8" width="2.7" height="1.2000000000000028" fill="#ff0000" fill-opacity="0.62"/>
<rect x="762.45" y="77.3" width="2.7" height="14.200000000000003" fill="#0000ff" fill-opacity="0.62"/>
<rect x="765.15" y="78.3" width="2.7" height="4.700000000000003" fill="#ff0000" fill-opacity="0.62"/>
<rect x="767.84" y="83.0" width="2.7" height="3.9000000000000057" fill="#ff0000" fill-opacity="0.62"/>
<rect x="770.54" y="63.6" width="2.7" height="23.999999999999993" fill="#0000ff" fill-opacity="0.62"/>
<rect x="773.24" y="37.1" width="2.7" height="27.499999999999993" fill="#0000ff" fill-opacity="0.62"/>
<rect x="775.93" y="22.4" width="2.7" height="15.100000000000001" fill="#0000ff" fill-opacity="0.62"/>
<rect x="778.63" y="22.4" width="2.7" height="23.300000000000004" fill="#ff0000" fill-opacity="0.62"/>
<rect x="781.32" y="44.0" width="2.7" height="8.899999999999999" fill="#ff0000" fill-opacity="0.62"/>
<rect x="784.02" y="40.0" width="2.7" height="12.899999999999999" fill="#0000ff" fill-opacity="0.62"/>
<rect x="786.72" y="49.8" width="2.7" height="1.7000000000000028" fill="#0000ff" fill-opacity="0.62"/>
<rect x="789.41" y="49.8" width="2.7" height="10.800000000000004" fill="#0000ff" fill-opacity="0.62"/>
<rect x="792.11" y="36.6" width="2.7" height="21.1" fill="#0000ff" fill-opacity="0.62"/>
<rect x="794.81" y="38.3" width="2.7" height="2.6000000000000014" fill="#ff0000" fill-opacity="0.62"/>
<rect x="797.50" y="40.0" width="2.7" height="1.7999999999999972" fill="#ff0000" fill-opacity="0.62"/>
<rect x="800.20" y="36.1" width="2.7" height="3.3999999999999986" fill="#0000ff" fill-opacity="0.62"/>
<rect x="802.90" y="35.4" width="2.7" height="2.1000000000000014" fill="#0000ff" fill-opacity="0.62"/>
<rect x="805.59" y="36.1" width="2.7" height="22.799999999999997" fill="#ff0000" fill-opacity="0.62"/>
<rect x="808.29" y="58.9" width="2.7" height="2.6000000000000014" fill="#ff0000" fill-opacity="0.62"/>
<rect x="810.98" y="61.5" width="2.7" height="28.299999999999997" fill="#ff0000" fill-opacity="0.62"/>
<rect x="813.68" y="73.2" width="2.7" height="18.299999999999997" fill="#0000ff" fill-opacity="0.62"/>
<rect x="816.38" y="73.5" width="2.7" height="6.900000000000006" fill="#ff0000" fill-opacity="0.62"/>
<rect x="819.07" y="73.9" width="2.7" height="4.799999999999997" fill="#0000ff" fill-opacity="0.62"/>
<rect x="821.77" y="73.9" width="2.7" height="7.8999999999999915" fill="#ff0000" fill-opacity="0.62"/>
<rect x="824.47" y="77.8" width="2.7" height="3.4000000000000057" fill="#0000ff" fill-opacity="0.62"/>
<rect x="827.16" y="77.8" width="2.7" height="9.100000000000009" fill="#ff0000" fill-opacity="0.62"/>
<rect x="829.86" y="64.6" width="2.7" height="22.30000000000001" fill="#0000ff" fill-opacity="0.62"/>
<rect x="832.56" y="64.9" width="2.7" height="8.599999999999994" fill="#ff0000" fill-opacity="0.62"/>
<rect x="835.25" y="46.4" width="2.7" height="30.6" fill="#0000ff" fill-opacity="0.62"/>
<rect x="837.95" y="46.0" width="2.7" height="7.799999999999997" fill="#ff0000" fill-opacity="0.62"/>
<rect x="840.65" y="50.9" width="2.7" height="5.5" fill="#0000ff" fill-opacity="0.62"/>
<rect x="843.34" y="49.8" width="2.7" height="1.1000000000000014" fill="#ff0000" fill-opacity="0.62"/>
<rect x="846.04" y="46.9" width="2.7" height="4.0" fill="#0000ff" fill-opacity="0.62"/>
<rect x="848.73" y="46.9" width="2.7" height="23.500000000000007" fill="#ff0000" fill-opacity="0.62"/>
<rect x="851.43" y="67.5" width="2.7" height="1.7000000000000028" fill="#ff0000" fill-opacity="0.62"/>
<rect x="854.13" y="67.5" width="2.7" height="9.5" fill="#ff0000" fill-opacity="0.62"/>
<rect x="856.82" y="77.0" width="2.7" height="1.2999999999999972" fill="#ff0000" fill-opacity="0.62"/>
<rect x="859.52" y="77.8" width="2.7" height="30.900000000000006" fill="#ff0000" fill-opacity="0.62"/>
<rect x="862.22" y="108.7" width="2.7" height="2.5999999999999943" fill="#ff0000" fill-opacity="0.62"/>
<rect x="864.91" y="92.4" width="2.7" height="22.299999999999997" fill="#0000ff" fill-opacity="0.62"/>
<rect x="867.61" y="68.0" width="2.7" height="26.099999999999994" fill="#0000ff" fill-opacity="0.62"/>
<rect x="870.31" y="65.8" width="2.7" height="47.400000000000006" fill="#ff0000" fill-opacity="0.62"/>
<rect x="873.00" y="113.0" width="2.7" height="37.599999999999994" fill="#ff0000" fill-opacity="0.62"/>
<rect x="875.70" y="148.1" width="2.7" height="9.400000000000006" fill="#ff0000" fill-opacity="0.62"/>
<rect x="878.39" y="142.1" width="2.7" height="15.400000000000006" fill="#0000ff" fill-opacity="0.62"/>
<rect x="881.09" y="142.9" width="2.7" height="1.6999999999999886" fill="#ff0000" fill-opacity="0.62"/>
<rect x="883.79" y="142.9" width="2.7" height="1.4000000000000057" fill="#ff0000" fill-opacity="0.62"/>
<rect x="886.48" y="142.6" width="2.7" height="25.200000000000017" fill="#ff0000" fill-opacity="0.62"/>
<rect x="889.18" y="152.4" width="2.7" height="15.400000000000006" fill="#0000ff" fill-opacity="0.62"/>
<rect x="891.88" y="150.1" width="2.7" height="16.0" fill="#ff0000" fill-opacity="0.62"/>
<rect x="894.57" y="167.3" width="2.7" height="36.5" fill="#ff0000" fill-opacity="0.62"/>
<rect x="897.27" y="196.1" width="2.7" height="9.5" fill="#0000ff" fill-opacity="0.62"/>
<rect x="899.97" y="164.9" width="2.7" height="38.099999999999994" fill="#0000ff" fill-opacity="0.62"/>
<rect x="902.66" y="164.4" width="2.7" height="57.900000000000006" fill="#ff0000" fill-opacity="0.62"/>
<rect x="905.36" y="213.2" width="2.7" height="9.400000000000006" fill="#0000ff" fill-opacity="0.62"/>
<rect x="908.06" y="198.2" width="2.7" height="15.800000000000011" fill="#0000ff" fill-opacity="0.62"/>
<rect x="910.75" y="182.1" width="2.7" height="16.099999999999994" fill="#0000ff" fill-opacity="0.62"/>
<rect x="913.45" y="181.0" width="2.7" height="1.4000000000000057" fill="#0000ff" fill-opacity="0.62"/>
<rect x="916.14" y="179.3" width="2.7" height="40.19999999999999" fill="#ff0000" fill-opacity="0.62"/>
<rect x="918.84" y="215.2" width="2.7" height="4.300000000000011" fill="#0000ff" fill-opacity="0.62"/>
<rect x="921.54" y="216.0" width="2.7" height="28.900000000000006" fill="#ff0000" fill-opacity="0.62"/>
<rect x="924.23" y="238.0" width="2.7" height="26.600000000000023" fill="#ff0000" fill-opacity="0.62"/>
<rect x="926.93" y="261.0" width="2.7" height="10.300000000000011" fill="#0000ff" fill-opacity="0.62"/>
<rect x="929.63" y="259.8" width="2.7" height="21.5" fill="#ff0000" fill-opacity="0.62"/>
<rect x="932.32" y="237.0" width="2.7" height="44.30000000000001" fill="#0000ff" fill-opacity="0.62"/>
<rect x="935.02" y="224.3" width="2.7" height="7.5" fill="#0000ff" fill-opacity="0.62"/>
<rect x="937.72" y="222.9" width="2.7" height="43.29999999999998" fill="#ff0000" fill-opacity="0.62"/>
<rect x="940.41" y="263.3" width="2.7" height="5.099999999999966" fill="#ff0000" fill-opacity="0.62"/>
<rect x="943.11" y="265.8" width="2.7" height="8.599999999999966" fill="#ff0000" fill-opacity="0.62"/>
<rect x="945.80" y="274.8" width="2.7" height="10.800000000000011" fill="#ff0000" fill-opacity="0.62"/>
<rect x="948.50" y="268.9" width="2.7" height="10.700000000000045" fill="#0000ff" fill-opacity="0.62"/>
<rect x="951.20" y="247.0" width="2.7" height="19.69999999999999" fill="#0000ff" fill-opacity="0.62"/>
<rect x="953.89" y="243.9" width="2.7" height="15.900000000000006" fill="#ff0000" fill-opacity="0.62"/>
<rect x="956.59" y="259.8" width="2.7" height="5.199999999999989" fill="#ff0000" fill-opacity="0.62"/>
<rect x="959.29" y="264.1" width="2.7" height="13.799999999999955" fill="#ff0000" fill-opacity="0.62"/>
<rect x="961.98" y="274.1" width="2.7" height="2.8999999999999773" fill="#0000ff" fill-opacity="0.62"/>
<rect x="964.68" y="256.9" width="2.7" height="17.5" fill="#0000ff" fill-opacity="0.62"/>
<rect x="967.38" y="243.6" width="2.7" height="9.800000000000011" fill="#0000ff" fill-opacity="0.62"/>
<rect x="970.07" y="242.4" width="2.7" height="5.400000000000006" fill="#ff0000" fill-opacity="0.62"/>
<rect x="972.77" y="238.4" width="2.7" height="9.400000000000006" fill="#0000ff" fill-opacity="0.62"/>
<rect x="975.47" y="240.0" width="2.7" height="15.5" fill="#ff0000" fill-opacity="0.62"/>
<rect x="978.16" y="218.0" width="2.7" height="26.599999999999994" fill="#0000ff" fill-opacity="0.62"/>
<rect x="980.86" y="174.0" width="2.7" height="42.099999999999994" fill="#0000ff" fill-opacity="0.62"/>
<rect x="983.55" y="149.8" width="2.7" height="24.69999999999999" fill="#0000ff" fill-opacity="0.62"/>
<rect x="986.25" y="147.3" width="2.7" height="8.199999999999989" fill="#0000ff" fill-opacity="0.62"/>
<rect x="988.95" y="130.1" width="2.7" height="19.700000000000017" fill="#0000ff" fill-opacity="0.62"/>
<rect x="991.64" y="100.9" width="2.7" height="27.099999999999994" fill="#0000ff" fill-opacity="0.62"/>
<rect x="994.34" y="100.9" width="2.7" height="7.699999999999989" fill="#ff0000" fill-opacity="0.62"/>
<rect x="997.04" y="108.6" width="2.7" height="2.6000000000000085" fill="#ff0000" fill-opacity="0.62"/>
<rect x="999.73" y="109.8" width="2.7" height="2.299999999999997" fill="#ff0000" fill-opacity="0.62"/>
<rect x="1002.43" y="110.3" width="2.7" height="27.500000000000014" fill="#ff0000" fill-opacity="0.62"/>
<rect x="1005.13" y="136.1" width="2.7" height="2.5999999999999943" fill="#0000ff" fill-opacity="0.62"/>
<rect x="1007.82" y="130.9" width="2.7" height="8.599999999999994" fill="#0000ff" fill-opacity="0.62"/>
<rect x="1010.52" y="134.4" width="2.7" height="23.5" fill="#ff0000" fill-opacity="0.62"/>
<rect x="1013.21" y="149.8" width="2.7" height="9.099999999999994" fill="#0000ff" fill-opacity="0.62"/>
<rect x="1015.91" y="145.5" width="2.7" height="8.599999999999994" fill="#ff0000" fill-opacity="0.62"/>
<rect x="1018.61" y="153.3" width="2.7" height="7.699999999999989" fill="#ff0000" fill-opacity="0.62"/>
<rect x="1021.30" y="141.2" width="2.7" height="20.600000000000023" fill="#0000ff" fill-opacity="0.62"/>
<rect x="1024.00" y="134.4" width="2.7" height="8.599999999999994" fill="#0000ff" fill-opacity="0.62"/>
<rect x="1026.70" y="134.4" width="2.7" height="21.400000000000006" fill="#ff0000" fill-opacity="0.62"/>
<rect x="1029.39" y="155.8" width="2.7" height="13.799999999999983" fill="#ff0000" fill-opacity="0.62"/>
<rect x="1032.09" y="164.0" width="2.7" height="10.800000000000011" fill="#0000ff" fill-opacity="0.62"/>
</g>
<text x="790.6" y="223.6" font-size="11.7" fill="#262626" textLength="76" lengthAdjust="spacingAndGlyphs" font-family="'DejaVu Sans', Verdana, sans-serif">Support area</text>
<text x="801.5" y="272.5" font-size="11.7" fill="#262626" textLength="46" lengthAdjust="spacingAndGlyphs" font-family="'DejaVu Sans', Verdana, sans-serif">Support</text>
<rect x="1162.5" y="64.5" width="76" height="13" fill="#dfe9f2" stroke="#6e8398" stroke-width="1"/>
<text x="1165" y="75" font-size="10" fill="#000000" textLength="71.7" lengthAdjust="spacingAndGlyphs" font-family="'DejaVu Sans', Verdana, sans-serif">121.68-118.61</text>
<rect x="1163.5" y="128.5" width="77" height="13" fill="#dfe9f2" stroke="#6e8398" stroke-width="1"/>
<text x="1166" y="139" font-size="10" fill="#000000" textLength="72" lengthAdjust="spacingAndGlyphs" font-family="'DejaVu Sans', Verdana, sans-serif">115.50-113.85</text>
<rect x="1163.5" y="165.5" width="77" height="13" fill="#dfe9f2" stroke="#6e8398" stroke-width="1"/>
<text x="1166" y="176" font-size="10" fill="#000000" textLength="72" lengthAdjust="spacingAndGlyphs" font-family="'DejaVu Sans', Verdana, sans-serif">111.44-110.10</text>
<rect x="1163.5" y="209.5" width="77" height="13" fill="#dfe9f2" stroke="#6e8398" stroke-width="1"/>
<text x="1166" y="220" font-size="10" fill="#000000" textLength="72" lengthAdjust="spacingAndGlyphs" font-family="'DejaVu Sans', Verdana, sans-serif">105.19-107.54</text>
<path d="M1121,20 L1166,20 Q1174,20 1174,28 L1174,44.5 Q1174,52.5 1166,52.5 L1120.5,52.5 L1104,63 L1113,45 L1113,28 Q1113,20 1121,20 Z" fill="rgba(232,100,100,0.30)" stroke="#e58d8d" stroke-width="2" stroke-linejoin="round" shape-rendering="geometricPrecision"/>
<text x="1123.6" y="39.7" font-size="11.7" fill="#262626" textLength="39" lengthAdjust="spacingAndGlyphs" font-family="'DejaVu Sans', Verdana, sans-serif">Supply</text>
<path d="M1266,24 L1349,24 Q1357,24 1357,32 L1357,61 Q1357,69 1349,69 L1266,69 L1252.5,74 L1258,60.6 L1258,32 Q1258,24 1266,24 Z" fill="rgba(232,100,100,0.30)" stroke="#e58d8d" stroke-width="2" stroke-linejoin="round" shape-rendering="geometricPrecision"/>
<text x="1269.6" y="43.5" font-size="11.7" fill="#262626" textLength="70" lengthAdjust="spacingAndGlyphs" font-family="'DejaVu Sans', Verdana, sans-serif">2016 Yearly</text>
<text x="1269.6" y="55.5" font-size="11.7" fill="#262626" textLength="75.6" lengthAdjust="spacingAndGlyphs" font-family="'DejaVu Sans', Verdana, sans-serif">opening level</text>
<path d="M782.3,133 L808.7,133 L816.4,122.9 L825,133 L850.2,133 Q858.2,133 858.2,141 L858.2,157.2 Q858.2,165.2 850.2,165.2 L782.3,165.2 Q774.3,165.2 774.3,157.2 L774.3,141 Q774.3,133 782.3,133 Z" fill="rgba(232,100,100,0.30)" stroke="#e58d8d" stroke-width="2" stroke-linejoin="round" shape-rendering="geometricPrecision"/>
<text x="785.8" y="152.9" font-size="11.7" fill="#262626" textLength="61.5" lengthAdjust="spacingAndGlyphs" font-family="'DejaVu Sans', Verdana, sans-serif">Resistance</text>
<path d="M1267,134 L1311.4,134 Q1319.4,134 1319.4,142 L1319.4,158.2 Q1319.4,166.2 1311.4,166.2 L1267,166.2 Q1259,166.2 1259,158.2 L1259,157.8 L1241.8,136.5 L1259,142.4 L1259,142 Q1259,134 1267,134 Z" fill="rgba(232,100,100,0.30)" stroke="#e58d8d" stroke-width="2" stroke-linejoin="round" shape-rendering="geometricPrecision"/>
<text x="1269.8" y="154" font-size="11.7" fill="#262626" textLength="38.6" lengthAdjust="spacingAndGlyphs" font-family="'DejaVu Sans', Verdana, sans-serif">Supply</text>
<path d="M1331,128 L1365,128 L1372.2,111.7 L1380.7,128 L1414,128 Q1422,128 1422,136 L1422,164.5 Q1422,172.5 1414,172.5 L1331,172.5 Q1323,172.5 1323,164.5 L1323,136 Q1323,128 1331,128 Z" fill="rgba(232,100,100,0.30)" stroke="#e58d8d" stroke-width="2" stroke-linejoin="round" shape-rendering="geometricPrecision"/>
<text x="1334.5" y="147.5" font-size="11.7" fill="#262626" textLength="70" lengthAdjust="spacingAndGlyphs" font-family="'DejaVu Sans', Verdana, sans-serif">2017 Yearly</text>
<text x="1334.5" y="159.5" font-size="11.7" fill="#262626" textLength="75.6" lengthAdjust="spacingAndGlyphs" font-family="'DejaVu Sans', Verdana, sans-serif">opening level</text>
<path d="M1265.7,205 L1317.3,205 Q1325.3,205 1325.3,213 L1325.3,241.5 Q1325.3,249.5 1317.3,249.5 L1265.6,249.5 Q1257.6,249.5 1257.6,241.5 L1257.6,212.5 L1224,178.4 Z" fill="rgba(232,100,100,0.30)" stroke="#e58d8d" stroke-width="2" stroke-linejoin="round" shape-rendering="geometricPrecision"/>
<text x="1268.6" y="224.7" font-size="11.7" fill="#262626" textLength="45.8" lengthAdjust="spacingAndGlyphs" font-family="'DejaVu Sans', Verdana, sans-serif">Support</text>
<text x="1268.6" y="236.7" font-size="11.7" fill="#262626" font-family="'DejaVu Sans', Verdana, sans-serif">area</text>
<rect x="1445" y="70" width="50" height="16" fill="#ff0000"/>
<rect x="1445" y="77" width="3" height="1" fill="#ffffff"/>
<text x="1453" y="81.8" font-size="11" fill="#ffffff" font-weight="bold" textLength="36.6" lengthAdjust="spacingAndGlyphs" font-family="'Liberation Sans', Arial, sans-serif">120.180</text>
<rect x="1445" y="89" width="50" height="16" fill="#ff0000"/>
<rect x="1445" y="96" width="3" height="1" fill="#ffffff"/>
<text x="1453" y="100.8" font-size="11" fill="#ffffff" font-weight="bold" textLength="36.6" lengthAdjust="spacingAndGlyphs" font-family="'Liberation Sans', Arial, sans-serif">116.970</text>
<rect x="1445" y="105" width="50" height="16" fill="#ff0000"/>
<rect x="1445" y="112" width="3" height="1" fill="#ffffff"/>
<text x="1453" y="116.8" font-size="11" fill="#ffffff" font-weight="bold" textLength="36.6" lengthAdjust="spacingAndGlyphs" font-family="'Liberation Sans', Arial, sans-serif">116.080</text>
<rect x="1445" y="156" width="50" height="16" fill="#0000ff"/>
<rect x="1445" y="163" width="3" height="1" fill="#ffffff"/>
<text x="1453" y="167.8" font-size="11" fill="#ffffff" font-weight="bold" textLength="36.6" lengthAdjust="spacingAndGlyphs" font-family="'Liberation Sans', Arial, sans-serif">111.817</text>
<rect x="1445" y="272" width="50" height="16" fill="#0000ff"/>
<rect x="1445" y="279" width="3" height="1" fill="#ffffff"/>
<text x="1453" y="283.8" font-size="11" fill="#ffffff" font-weight="bold" textLength="36.6" lengthAdjust="spacingAndGlyphs" font-family="'Liberation Sans', Arial, sans-serif">100.610</text>
<text x="753.7" y="354" font-size="12.8" fill="#111111" font-weight="bold" textLength="80" lengthAdjust="spacingAndGlyphs" font-family="'Liberation Sans', Arial, sans-serif">FX:USDJPY, D</text>
<text x="839.2" y="354" font-size="13" fill="#111111" textLength="45.5" lengthAdjust="spacingAndGlyphs" font-family="'Liberation Sans', Arial, sans-serif">111.818</text>
<path d="M888.8,345.2 L899.8,345.2 L894.3,356 Z" fill="#a00000" shape-rendering="geometricPrecision"/>
<text x="902.6" y="354" font-size="13" fill="#111111" textLength="87" lengthAdjust="spacingAndGlyphs" font-family="'Liberation Sans', Arial, sans-serif">−0.107 (−0.1%)</text>
<text x="994.5" y="354" font-size="12.8" fill="#111111" font-weight="bold" font-family="'Liberation Sans', Arial, sans-serif">O:</text>
<text x="1009" y="354" font-size="13" fill="#b01818" textLength="45.2" lengthAdjust="spacingAndGlyphs" font-family="'Liberation Sans', Arial, sans-serif">111.925</text>
<text x="1059.8" y="354" font-size="12.8" fill="#111111" font-weight="bold" font-family="'Liberation Sans', Arial, sans-serif">H:</text>
<text x="1072.6" y="354" font-size="13" fill="#b01818" textLength="46.7" lengthAdjust="spacingAndGlyphs" font-family="'Liberation Sans', Arial, sans-serif">111.928</text>
<text x="1124.3" y="354" font-size="12.8" fill="#111111" font-weight="bold" font-family="'Liberation Sans', Arial, sans-serif">L:</text>
<text x="1134.8" y="354" font-size="13" fill="#b01818" textLength="45.2" lengthAdjust="spacingAndGlyphs" font-family="'Liberation Sans', Arial, sans-serif">111.701</text>
<text x="1185.5" y="354" font-size="12.8" fill="#111111" font-weight="bold" font-family="'Liberation Sans', Arial, sans-serif">C:</text>
<text x="1198" y="354" font-size="13" fill="#b01818" textLength="46.2" lengthAdjust="spacingAndGlyphs" font-family="'Liberation Sans', Arial, sans-serif">111.818</text>
<rect x="753" y="363" width="743" height="335" fill="#ffffff"/>
<rect x="753" y="363" width="743" height="1" fill="#505050"/>
<rect x="753" y="697" width="743" height="1" fill="#505050"/>
<rect x="753" y="363" width="1" height="335" fill="#505050"/>
<rect x="1495" y="363" width="1" height="335" fill="#505050"/>
<text x="762.5" y="384.7" font-size="12.2" fill="#555555" font-weight="bold" textLength="166.5" lengthAdjust="spacing" font-family="'Liberation Sans', Arial, sans-serif">U.S. Dollar/Japanese Yen, D</text>
<rect x="1445" y="363" width="1" height="316" fill="#505050"/>
<rect x="753" y="678" width="693" height="1" fill="#505050"/>
<rect x="1446" y="390" width="3" height="1" fill="#505050"/>
<text x="1453" y="394.5" font-size="10.5" fill="#555555" textLength="36.7" lengthAdjust="spacingAndGlyphs" font-family="'Liberation Sans', Arial, sans-serif">118.000</text>
<rect x="1446" y="423" width="3" height="1" fill="#505050"/>
<text x="1453" y="427.5" font-size="10.5" fill="#555555" textLength="36.7" lengthAdjust="spacingAndGlyphs" font-family="'Liberation Sans', Arial, sans-serif">116.000</text>
<rect x="1446" y="455" width="3" height="1" fill="#505050"/>
<text x="1453" y="459.5" font-size="10.5" fill="#555555" textLength="36.7" lengthAdjust="spacingAndGlyphs" font-family="'Liberation Sans', Arial, sans-serif">114.000</text>
<rect x="1446" y="487" width="3" height="1" fill="#505050"/>
<text x="1453" y="491.5" font-size="10.5" fill="#555555" textLength="36.7" lengthAdjust="spacingAndGlyphs" font-family="'Liberation Sans', Arial, sans-serif">112.000</text>
<rect x="1446" y="519" width="3" height="1" fill="#505050"/>
<text x="1453" y="523.5" font-size="10.5" fill="#555555" textLength="36.7" lengthAdjust="spacingAndGlyphs" font-family="'Liberation Sans', Arial, sans-serif">110.000</text>
<rect x="1446" y="551" width="3" height="1" fill="#505050"/>
<text x="1453" y="555.5" font-size="10.5" fill="#555555" textLength="36.7" lengthAdjust="spacingAndGlyphs" font-family="'Liberation Sans', Arial, sans-serif">108.000</text>
<rect x="1446" y="583" width="3" height="1" fill="#505050"/>
<text x="1453" y="587.5" font-size="10.5" fill="#555555" textLength="36.7" lengthAdjust="spacingAndGlyphs" font-family="'Liberation Sans', Arial, sans-serif">106.000</text>
<rect x="1446" y="615" width="3" height="1" fill="#505050"/>
<text x="1453" y="619.5" font-size="10.5" fill="#555555" textLength="36.7" lengthAdjust="spacingAndGlyphs" font-family="'Liberation Sans', Arial, sans-serif">104.000</text>
<rect x="1446" y="647" width="3" height="1" fill="#505050"/>
<text x="1453" y="651.5" font-size="10.5" fill="#555555" textLength="36.7" lengthAdjust="spacingAndGlyphs" font-family="'Liberation Sans', Arial, sans-serif">102.000</text>
<rect x="786" y="679" width="1" height="3" fill="#505050"/>
<text x="786.5" y="692.6" font-size="11" fill="#555555" text-anchor="middle" font-family="'Liberation Sans', Arial, sans-serif">Nov</text>
<rect x="867" y="679" width="1" height="3" fill="#505050"/>
<text x="867.5" y="692.6" font-size="11" fill="#555555" text-anchor="middle" font-family="'Liberation Sans', Arial, sans-serif">Dec</text>
<rect x="948" y="679" width="1" height="3" fill="#505050"/>
<text x="948.5" y="692.6" font-size="11" fill="#555555" font-weight="bold" text-anchor="middle" font-family="'Liberation Sans', Arial, sans-serif">2017</text>
<rect x="1026" y="679" width="1" height="3" fill="#505050"/>
<text x="1026.5" y="692.6" font-size="11" fill="#555555" text-anchor="middle" font-family="'Liberation Sans', Arial, sans-serif">Feb</text>
<rect x="1104" y="679" width="1" height="3" fill="#505050"/>
<text x="1104.5" y="692.6" font-size="11" fill="#555555" text-anchor="middle" font-family="'Liberation Sans', Arial, sans-serif">2</text>
<rect x="1185" y="679" width="1" height="3" fill="#505050"/>
<text x="1185.5" y="692.6" font-size="11" fill="#555555" text-anchor="middle" font-family="'Liberation Sans', Arial, sans-serif">Apr</text>
<rect x="1263" y="679" width="1" height="3" fill="#505050"/>
<text x="1263.5" y="692.6" font-size="11" fill="#555555" text-anchor="middle" font-family="'Liberation Sans', Arial, sans-serif">2</text>
<rect x="1345" y="679" width="1" height="3" fill="#505050"/>
<text x="1345.5" y="692.6" font-size="11" fill="#555555" text-anchor="middle" font-family="'Liberation Sans', Arial, sans-serif">Jun</text>
<rect x="1426" y="679" width="1" height="3" fill="#505050"/>
<text x="1426.5" y="692.6" font-size="11" fill="#555555" text-anchor="middle" font-family="'Liberation Sans', Arial, sans-serif">Jul</text>
<rect x="947.5" y="429.5" width="348" height="16" fill="none" stroke="#333333" stroke-width="1"/>
<rect x="851.5" y="481.5" width="444" height="16" fill="none" stroke="#333333" stroke-width="1"/>
<rect x="754" y="509" width="542" height="2" fill="#8080ff"/>
<rect x="754" y="387" width="690" height="1" fill="#ff0000"/>
<g clip-path="url(#cBR)">
<rect x="756.00" y="615.3" width="1" height="11.300000000000068" fill="#737373"/>
<rect x="760.00" y="613.2" width="1" height="10.299999999999955" fill="#737373"/>
<rect x="763.00" y="611.2" width="1" height="9.799999999999955" fill="#737373"/>
<rect x="767.00" y="602.1" width="1" height="12.399999999999977" fill="#737373"/>
<rect x="771.00" y="606.0" width="1" height="9.799999999999955" fill="#737373"/>
<rect x="774.00" y="595.0" width="1" height="15.600000000000023" fill="#737373"/>
<rect x="778.00" y="591.8" width="1" height="17.100000000000023" fill="#737373"/>
<rect x="782.00" y="596.1" width="1" height="15.399999999999977" fill="#737373"/>
<rect x="786.00" y="598.1" width="1" height="20.299999999999955" fill="#737373"/>
<rect x="789.00" y="613.0" width="1" height="18.799999999999955" fill="#737373"/>
<rect x="793.00" y="624.9" width="1" height="14.899999999999977" fill="#737373"/>
<rect x="797.00" y="627.0" width="1" height="8.0" fill="#737373"/>
<rect x="800.00" y="606.0" width="1" height="14.899999999999977" fill="#737373"/>
<rect x="804.00" y="596.9" width="1" height="14.100000000000023" fill="#737373"/>
<rect x="808.00" y="586.1" width="1" height="74.89999999999998" fill="#737373"/>
<rect x="812.00" y="568.9" width="1" height="32.0" fill="#737373"/>
<rect x="815.00" y="568.9" width="1" height="14.800000000000068" fill="#737373"/>
<rect x="819.00" y="544.1" width="1" height="27.899999999999977" fill="#737373"/>
<rect x="823.00" y="530.3" width="1" height="25.300000000000068" fill="#737373"/>
<rect x="826.00" y="524.2" width="1" height="14.699999999999932" fill="#737373"/>
<rect x="830.00" y="517.0" width="1" height="25.700000000000045" fill="#737373"/>
<rect x="834.00" y="505.0" width="1" height="17.399999999999977" fill="#737373"/>
<rect x="837.00" y="498.4" width="1" height="14.300000000000068" fill="#737373"/>
<rect x="841.00" y="498.1" width="1" height="17.5" fill="#737373"/>
<rect x="845.00" y="472.3" width="1" height="33.5" fill="#737373"/>
<rect x="849.00" y="465.0" width="1" height="17.0" fill="#737373"/>
<rect x="852.00" y="457.2" width="1" height="21.100000000000023" fill="#737373"/>
<rect x="856.00" y="472.0" width="1" height="25.19999999999999" fill="#737373"/>
<rect x="860.00" y="466.3" width="1" height="27.5" fill="#737373"/>
<rect x="863.00" y="446.0" width="1" height="40.0" fill="#737373"/>
<rect x="867.00" y="442.4" width="1" height="15.200000000000045" fill="#737373"/>
<rect x="871.00" y="452.0" width="1" height="14.0" fill="#737373"/>
<rect x="874.00" y="443.5" width="1" height="30.399999999999977" fill="#737373"/>
<rect x="878.00" y="453.3" width="1" height="10.300000000000011" fill="#737373"/>
<rect x="882.00" y="449.3" width="1" height="15.5" fill="#737373"/>
<rect x="886.00" y="449.3" width="1" height="20.30000000000001" fill="#737373"/>
<rect x="889.00" y="434.4" width="1" height="22.600000000000023" fill="#737373"/>
<rect x="893.00" y="421.2" width="1" height="20.0" fill="#737373"/>
<rect x="897.00" y="432.1" width="1" height="11.399999999999977" fill="#737373"/>
<rect x="900.00" y="401.2" width="1" height="41.19999999999999" fill="#737373"/>
<rect x="904.00" y="384.6" width="1" height="24.399999999999977" fill="#737373"/>
<rect x="908.00" y="383.7" width="1" height="11.300000000000011" fill="#737373"/>
<rect x="911.00" y="390.0" width="1" height="24.600000000000023" fill="#737373"/>
<rect x="915.00" y="384.6" width="1" height="23.399999999999977" fill="#737373"/>
<rect x="919.00" y="392.3" width="1" height="12.899999999999977" fill="#737373"/>
<rect x="923.00" y="393.2" width="1" height="8.800000000000011" fill="#737373"/>
<rect x="926.00" y="395.8" width="1" height="8.5" fill="#737373"/>
<rect x="930.00" y="401.0" width="1" height="5.899999999999977" fill="#737373"/>
<rect x="934.00" y="397.1" width="1" height="10.399999999999977" fill="#737373"/>
<rect x="937.00" y="394.0" width="1" height="11.0" fill="#737373"/>
<rect x="941.00" y="402.0" width="1" height="17.80000000000001" fill="#737373"/>
<rect x="945.00" y="404.0" width="1" height="18.399999999999977" fill="#737373"/>
<rect x="948.00" y="376.5" width="1" height="33.5" fill="#737373"/>
<rect x="952.00" y="388.0" width="1" height="18.899999999999977" fill="#737373"/>
<rect x="956.00" y="400.0" width="1" height="36.10000000000002" fill="#737373"/>
<rect x="960.00" y="404.3" width="1" height="33.5" fill="#737373"/>
<rect x="963.00" y="399.2" width="1" height="25.80000000000001" fill="#737373"/>
<rect x="967.00" y="418.4" width="1" height="17.200000000000045" fill="#737373"/>
<rect x="971.00" y="409.1" width="1" height="42.39999999999998" fill="#737373"/>
<rect x="974.00" y="431.0" width="1" height="27.399999999999977" fill="#737373"/>
<rect x="978.00" y="432.1" width="1" height="21.19999999999999" fill="#737373"/>
<rect x="982.00" y="447.0" width="1" height="14.0" fill="#737373"/>
<rect x="986.00" y="451.0" width="1" height="29.0" fill="#737373"/>
<rect x="989.00" y="443.0" width="1" height="37.0" fill="#737373"/>
<rect x="993.00" y="429.4" width="1" height="19.100000000000023" fill="#737373"/>
<rect x="997.00" y="432.9" width="1" height="18.700000000000045" fill="#737373"/>
<rect x="1000.00" y="449.2" width="1" height="28.30000000000001" fill="#737373"/>
<rect x="1004.00" y="456.9" width="1" height="21.5" fill="#737373"/>
<rect x="1008.00" y="456.0" width="1" height="14.600000000000023" fill="#737373"/>
<rect x="1011.00" y="442.0" width="1" height="28.600000000000023" fill="#737373"/>
<rect x="1015.00" y="432.9" width="1" height="15.600000000000023" fill="#737373"/>
<rect x="1019.00" y="440.3" width="1" height="23.5" fill="#737373"/>
<rect x="1023.00" y="456.0" width="1" height="29.600000000000023" fill="#737373"/>
<rect x="1026.00" y="456.0" width="1" height="21.0" fill="#737373"/>
<rect x="1030.00" y="466.0" width="1" height="20.600000000000023" fill="#737373"/>
<rect x="1034.00" y="464.3" width="1" height="18.399999999999977" fill="#737373"/>
<rect x="1037.00" y="475.3" width="1" height="18.5" fill="#737373"/>
<rect x="1041.00" y="478.4" width="1" height="15.100000000000023" fill="#737373"/>
<rect x="1045.00" y="479.0" width="1" height="14.800000000000011" fill="#737373"/>
<rect x="1048.00" y="466.0" width="1" height="25.80000000000001" fill="#737373"/>
<rect x="1052.00" y="458.1" width="1" height="15.5" fill="#737373"/>
<rect x="1056.00" y="453.0" width="1" height="12.0" fill="#737373"/>
<rect x="1060.00" y="447.1" width="1" height="20.599999999999966" fill="#737373"/>
<rect x="1063.00" y="440.3" width="1" height="17.099999999999966" fill="#737373"/>
<rect x="1067.00" y="451.2" width="1" height="18.30000000000001" fill="#737373"/>
<rect x="1071.00" y="464.3" width="1" height="13.199999999999989" fill="#737373"/>
<rect x="1074.00" y="468.0" width="1" height="6.899999999999977" fill="#737373"/>
<rect x="1078.00" y="459.1" width="1" height="12.099999999999966" fill="#737373"/>
<rect x="1082.00" y="459.8" width="1" height="12.599999999999966" fill="#737373"/>
<rect x="1085.00" y="464.3" width="1" height="14.399999999999977" fill="#737373"/>
<rect x="1089.00" y="472.4" width="1" height="16.30000000000001" fill="#737373"/>
<rect x="1093.00" y="474.6" width="1" height="14.099999999999966" fill="#737373"/>
<rect x="1097.00" y="473.2" width="1" height="19.19999999999999" fill="#737373"/>
<rect x="1100.00" y="455.2" width="1" height="22.30000000000001" fill="#737373"/>
<rect x="1104.00" y="445.8" width="1" height="15.699999999999989" fill="#737373"/>
<rect x="1108.00" y="444.4" width="1" height="14.200000000000045" fill="#737373"/>
<rect x="1111.00" y="453.0" width="1" height="9.600000000000023" fill="#737373"/>
<rect x="1115.00" y="453.5" width="1" height="6.300000000000011" fill="#737373"/>
<rect x="1119.00" y="444.0" width="1" height="17.5" fill="#737373"/>
<rect x="1122.00" y="438.5" width="1" height="11.5" fill="#737373"/>
<rect x="1126.00" y="431.3" width="1" height="13.599999999999966" fill="#737373"/>
<rect x="1130.00" y="440.0" width="1" height="7.800000000000011" fill="#737373"/>
<rect x="1134.00" y="436.2" width="1" height="10.400000000000034" fill="#737373"/>
<rect x="1137.00" y="440.9" width="1" height="27.700000000000045" fill="#737373"/>
<rect x="1141.00" y="463.2" width="1" height="9.300000000000011" fill="#737373"/>
<rect x="1145.00" y="464.1" width="1" height="14.399999999999977" fill="#737373"/>
<rect x="1148.00" y="473.1" width="1" height="7.399999999999977" fill="#737373"/>
<rect x="1152.00" y="474.4" width="1" height="21.200000000000045" fill="#737373"/>
<rect x="1156.00" y="491.0" width="1" height="16.19999999999999" fill="#737373"/>
<rect x="1159.00" y="494.1" width="1" height="15.399999999999977" fill="#737373"/>
<rect x="1163.00" y="496.3" width="1" height="13.5" fill="#737373"/>
<rect x="1167.00" y="503.1" width="1" height="14.399999999999977" fill="#737373"/>
<rect x="1171.00" y="501.0" width="1" height="15.899999999999977" fill="#737373"/>
<rect x="1174.00" y="499.2" width="1" height="8.300000000000011" fill="#737373"/>
<rect x="1178.00" y="488.0" width="1" height="17.0" fill="#737373"/>
<rect x="1182.00" y="489.2" width="1" height="2.3000000000000114" fill="#737373"/>
<rect x="755.00" y="617.0" width="3" height="9.100000000000023" fill="#0000ff"/>
<rect x="759.00" y="616.6" width="3" height="3.1000000000000227" fill="#ff0000"/>
<rect x="762.00" y="613.2" width="3" height="6.899999999999977" fill="#0000ff"/>
<rect x="766.00" y="612.9" width="3" height="1.0" fill="#0000ff"/>
<rect x="770.00" y="608.9" width="3" height="5.2000000000000455" fill="#0000ff"/>
<rect x="773.00" y="596.1" width="3" height="13.699999999999932" fill="#0000ff"/>
<rect x="777.00" y="596.1" width="3" height="10.600000000000023" fill="#ff0000"/>
<rect x="781.00" y="602.9" width="3" height="7.7000000000000455" fill="#0000ff"/>
<rect x="785.00" y="602.9" width="3" height="11.700000000000045" fill="#ff0000"/>
<rect x="788.00" y="614.1" width="3" height="14.600000000000023" fill="#ff0000"/>
<rect x="792.00" y="627.8" width="3" height="6.0" fill="#ff0000"/>
<rect x="796.00" y="630.7" width="3" height="3.5" fill="#0000ff"/>
<rect x="799.00" y="608.9" width="3" height="6.899999999999977" fill="#0000ff"/>
<rect x="803.00" y="597.8" width="3" height="12.300000000000068" fill="#0000ff"/>
<rect x="807.00" y="590.0" width="3" height="8.600000000000023" fill="#0000ff"/>
<rect x="811.00" y="571.2" width="3" height="19.699999999999932" fill="#0000ff"/>
<rect x="814.00" y="571.2" width="3" height="4.599999999999909" fill="#ff0000"/>
<rect x="818.00" y="545.3" width="3" height="25.90000000000009" fill="#0000ff"/>
<rect x="822.00" y="533.3" width="3" height="12.300000000000068" fill="#0000ff"/>
<rect x="825.00" y="533.3" width="3" height="2.5" fill="#ff0000"/>
<rect x="829.00" y="518.3" width="3" height="17.200000000000045" fill="#0000ff"/>
<rect x="833.00" y="506.3" width="3" height="11.999999999999943" fill="#0000ff"/>
<rect x="836.00" y="505.3" width="3" height="2.1999999999999886" fill="#ff0000"/>
<rect x="840.00" y="502.4" width="3" height="5.100000000000023" fill="#0000ff"/>
<rect x="844.00" y="480.0" width="3" height="22.399999999999977" fill="#0000ff"/>
<rect x="848.00" y="467.2" width="3" height="13.699999999999989" fill="#0000ff"/>
<rect x="851.00" y="467.2" width="3" height="2.0" fill="#ff0000"/>
<rect x="855.00" y="476.1" width="3" height="13.699999999999989" fill="#ff0000"/>
<rect x="859.00" y="481.8" width="3" height="8.0" fill="#0000ff"/>
<rect x="862.00" y="449.0" width="3" height="33.39999999999998" fill="#0000ff"/>
<rect x="866.00" y="449.0" width="3" height="6.5" fill="#ff0000"/>
<rect x="870.00" y="455.0" width="3" height="9.800000000000011" fill="#ff0000"/>
<rect x="873.00" y="459.3" width="3" height="8.199999999999989" fill="#0000ff"/>
<rect x="877.00" y="456.7" width="3" height="2.900000000000034" fill="#0000ff"/>
<rect x="881.00" y="456.7" width="3" height="3.900000000000034" fill="#ff0000"/>
<rect x="885.00" y="455.0" width="3" height="5.600000000000023" fill="#0000ff"/>
<rect x="888.00" y="437.3" width="3" height="18.19999999999999" fill="#0000ff"/>
<rect x="892.00" y="433.2" width="3" height="6.300000000000011" fill="#ff0000"/>
<rect x="896.00" y="437.3" width="3" height="2.1999999999999886" fill="#0000ff"/>
<rect x="899.00" y="406.9" width="3" height="30.900000000000034" fill="#0000ff"/>
<rect x="903.00" y="388.9" width="3" height="18.5" fill="#0000ff"/>
<rect x="907.00" y="388.9" width="3" height="4.300000000000011" fill="#ff0000"/>
<rect x="910.00" y="392.3" width="3" height="14.099999999999966" fill="#ff0000"/>
<rect x="914.00" y="394.0" width="3" height="12.399999999999977" fill="#0000ff"/>
<rect x="918.00" y="394.0" width="3" height="5.5" fill="#ff0000"/>
<rect x="922.00" y="399.2" width="3" height="1.400000000000034" fill="#ff0000"/>
<rect x="925.00" y="399.2" width="3" height="4.300000000000011" fill="#ff0000"/>
<rect x="929.00" y="403.0" width="3" height="3.3999999999999773" fill="#ff0000"/>
<rect x="933.00" y="401.2" width="3" height="5.199999999999989" fill="#0000ff"/>
<rect x="936.00" y="401.2" width="3" height="2.3000000000000114" fill="#ff0000"/>
<rect x="940.00" y="403.5" width="3" height="12.0" fill="#ff0000"/>
<rect x="944.00" y="408.1" width="3" height="7.399999999999977" fill="#0000ff"/>
<rect x="947.00" y="396.1" width="3" height="12.5" fill="#0000ff"/>
<rect x="951.00" y="396.1" width="3" height="8.199999999999989" fill="#ff0000"/>
<rect x="955.00" y="404.0" width="3" height="30.899999999999977" fill="#ff0000"/>
<rect x="959.00" y="409.1" width="3" height="25.799999999999955" fill="#0000ff"/>
<rect x="962.00" y="406.9" width="3" height="16.700000000000045" fill="#ff0000"/>
<rect x="966.00" y="423.2" width="3" height="4.300000000000011" fill="#ff0000"/>
<rect x="970.00" y="427.0" width="3" height="6.5" fill="#ff0000"/>
<rect x="973.00" y="433.2" width="3" height="11.5" fill="#ff0000"/>
<rect x="977.00" y="444.2" width="3" height="5.600000000000023" fill="#ff0000"/>
<rect x="981.00" y="449.8" width="3" height="4.0" fill="#ff0000"/>
<rect x="985.00" y="453.3" width="3" height="25.19999999999999" fill="#ff0000"/>
<rect x="988.00" y="445.2" width="3" height="33.30000000000001" fill="#0000ff"/>
<rect x="992.00" y="442.0" width="3" height="3.3999999999999773" fill="#0000ff"/>
<rect x="996.00" y="442.0" width="3" height="4.600000000000023" fill="#ff0000"/>
<rect x="999.00" y="451.8" width="3" height="24.899999999999977" fill="#ff0000"/>
<rect x="1003.00" y="459.1" width="3" height="17.599999999999966" fill="#0000ff"/>
<rect x="1007.00" y="459.1" width="3" height="8.599999999999966" fill="#ff0000"/>
<rect x="1010.00" y="446.6" width="3" height="21.099999999999966" fill="#0000ff"/>
<rect x="1014.00" y="438.0" width="3" height="9.800000000000011" fill="#0000ff"/>
<rect x="1018.00" y="444.0" width="3" height="16.899999999999977" fill="#ff0000"/>
<rect x="1022.00" y="459.8" width="3" height="16.0" fill="#ff0000"/>
<rect x="1025.00" y="468.1" width="3" height="8.199999999999989" fill="#0000ff"/>
<rect x="1029.00" y="468.1" width="3" height="7.699999999999989" fill="#ff0000"/>
<rect x="1033.00" y="474.9" width="3" height="4.800000000000011" fill="#ff0000"/>
<rect x="1036.00" y="480.9" width="3" height="12.100000000000023" fill="#ff0000"/>
<rect x="1040.00" y="481.8" width="3" height="11.199999999999989" fill="#0000ff"/>
<rect x="1044.00" y="481.8" width="3" height="7.699999999999989" fill="#ff0000"/>
<rect x="1047.00" y="468.1" width="3" height="21.399999999999977" fill="#0000ff"/>
<rect x="1051.00" y="468.1" width="3" height="1" fill="#ff0000"/>
<rect x="1055.00" y="460.3" width="3" height="3.5" fill="#0000ff"/>
<rect x="1059.00" y="450.9" width="3" height="10.0" fill="#0000ff"/>
<rect x="1062.00" y="450.9" width="3" height="3.8000000000000114" fill="#ff0000"/>
<rect x="1066.00" y="454.0" width="3" height="14.899999999999977" fill="#ff0000"/>
<rect x="1070.00" y="468.4" width="3" height="5.2000000000000455" fill="#ff0000"/>
<rect x="1073.00" y="470.1" width="3" height="4.5" fill="#0000ff"/>
<rect x="1077.00" y="460.9" width="3" height="9.700000000000045" fill="#0000ff"/>
<rect x="1081.00" y="460.9" width="3" height="6.300000000000011" fill="#ff0000"/>
<rect x="1084.00" y="466.7" width="3" height="11.699999999999989" fill="#ff0000"/>
<rect x="1088.00" y="478.0" width="3" height="7.600000000000023" fill="#ff0000"/>
<rect x="1092.00" y="477.0" width="3" height="9.600000000000023" fill="#0000ff"/>
<rect x="1096.00" y="475.8" width="3" height="1.6999999999999886" fill="#0000ff"/>
<rect x="1099.00" y="459.8" width="3" height="16.899999999999977" fill="#0000ff"/>
<rect x="1103.00" y="449.2" width="3" height="11.699999999999989" fill="#0000ff"/>
<rect x="1107.00" y="449.2" width="3" height="6.800000000000011" fill="#ff0000"/>
<rect x="1110.00" y="456.9" width="3" height="1.7000000000000455" fill="#0000ff"/>
<rect x="1114.00" y="456.0" width="3" height="1.8000000000000114" fill="#0000ff"/>
<rect x="1118.00" y="449.2" width="3" height="7.699999999999989" fill="#0000ff"/>
<rect x="1121.00" y="440.9" width="3" height="8.5" fill="#0000ff"/>
<rect x="1125.00" y="441.3" width="3" height="2.1999999999999886" fill="#ff0000"/>
<rect x="1129.00" y="441.3" width="3" height="3.5" fill="#0000ff"/>
<rect x="1133.00" y="441.3" width="3" height="3.5" fill="#ff0000"/>
<rect x="1136.00" y="444.2" width="3" height="22.5" fill="#ff0000"/>
<rect x="1140.00" y="466.3" width="3" height="1.3000000000000114" fill="#ff0000"/>
<rect x="1144.00" y="467.1" width="3" height="10.5" fill="#ff0000"/>
<rect x="1147.00" y="477.0" width="3" height="2.6000000000000227" fill="#ff0000"/>
<rect x="1151.00" y="478.9" width="3" height="13.900000000000034" fill="#ff0000"/>
<rect x="1155.00" y="492.0" width="3" height="9.399999999999977" fill="#ff0000"/>
<rect x="1158.00" y="500.8" width="3" height="5.099999999999966" fill="#ff0000"/>
<rect x="1162.00" y="498.9" width="3" height="6.800000000000011" fill="#0000ff"/>
<rect x="1166.00" y="506.2" width="3" height="3.3000000000000114" fill="#ff0000"/>
<rect x="1170.00" y="502.1" width="3" height="7.399999999999977" fill="#0000ff"/>
<rect x="1173.00" y="502.3" width="3" height="1.3000000000000114" fill="#ff0000"/>
<rect x="1177.00" y="489.2" width="3" height="14.800000000000011" fill="#0000ff"/>
<rect x="1181.00" y="489.2" width="3" height="2.3000000000000114" fill="#ff0000"/>
</g>
<rect x="1302.5" y="436.5" width="77" height="13" fill="#dfe9f2" stroke="#6e8398" stroke-width="1"/>
<text x="1305" y="447" font-size="10" fill="#000000" textLength="72" lengthAdjust="spacingAndGlyphs" font-family="'DejaVu Sans', Verdana, sans-serif">115.62-114.60</text>
<rect x="1302.5" y="480.5" width="77" height="13" fill="#dfe9f2" stroke="#6e8398" stroke-width="1"/>
<text x="1305" y="491" font-size="10" fill="#000000" textLength="72" lengthAdjust="spacingAndGlyphs" font-family="'DejaVu Sans', Verdana, sans-serif">111.35-112.37</text>
<rect x="1302.5" y="505.5" width="37" height="13" fill="#dfe9f2" stroke="#6e8398" stroke-width="1"/>
<text x="1305" y="516" font-size="10" fill="#000000" textLength="32.5" lengthAdjust="spacingAndGlyphs" font-family="'DejaVu Sans', Verdana, sans-serif">110.58</text>
<path d="M777.7,413 L803.8,413 L811.4,387.5 L819.3,413 L845,413 Q853,413 853,421 L853,437.6 Q853,445.6 845,445.6 L777.7,445.6 Q769.7,445.6 769.7,437.6 L769.7,421 Q769.7,413 777.7,413 Z" fill="rgba(232,100,100,0.30)" stroke="#e58d8d" stroke-width="2" stroke-linejoin="round" shape-rendering="geometricPrecision"/>
<text x="780.4" y="432.6" font-size="11.7" fill="#262626" textLength="62.3" lengthAdjust="spacingAndGlyphs" font-family="'DejaVu Sans', Verdana, sans-serif">Resistance</text>
<path d="M1335.5,377 L1403.7,377 Q1411.7,377 1411.7,385 L1411.7,413.8 Q1411.7,421.8 1403.7,421.8 L1336.2,421.8 L1303.4,435.8 L1327.5,413.8 L1327.5,385 Q1327.5,377 1335.5,377 Z" fill="rgba(232,100,100,0.30)" stroke="#e58d8d" stroke-width="2" stroke-linejoin="round" shape-rendering="geometricPrecision"/>
<text x="1338.4" y="396.7" font-size="11.7" fill="#262626" textLength="62.6" lengthAdjust="spacingAndGlyphs" font-family="'DejaVu Sans', Verdana, sans-serif">Resistance</text>
<text x="1338.4" y="408.7" font-size="11.7" fill="#262626" font-family="'DejaVu Sans', Verdana, sans-serif">area</text>
<path d="M854.8,514 L880.9,514 L888.4,498 L896.3,514 L922.4,514 Q930.4,514 930.4,522 L930.4,550.5 Q930.4,558.5 922.4,558.5 L854.8,558.5 Q846.8,558.5 846.8,550.5 L846.8,522 Q846.8,514 854.8,514 Z" fill="rgba(232,100,100,0.30)" stroke="#e58d8d" stroke-width="2" stroke-linejoin="round" shape-rendering="geometricPrecision"/>
<text x="857.7" y="533.5" font-size="11.7" fill="#262626" textLength="62.3" lengthAdjust="spacingAndGlyphs" font-family="'DejaVu Sans', Verdana, sans-serif">Resistance</text>
<text x="857.7" y="545.5" font-size="11.7" fill="#262626" font-family="'DejaVu Sans', Verdana, sans-serif">area</text>
<path d="M1285,542 L1380.7,542 Q1388.7,542 1388.7,550 L1388.7,579 Q1388.7,587 1380.7,587 L1284.5,587 Q1276.5,587 1276.5,579 L1276.5,550 L1271.7,511.6 Z" fill="rgba(232,100,100,0.30)" stroke="#e58d8d" stroke-width="2" stroke-linejoin="round" shape-rendering="geometricPrecision"/>
<text x="1287.5" y="561.8" font-size="11.7" fill="#262626" font-family="'DejaVu Sans', Verdana, sans-serif">Broken</text>
<text x="1287.5" y="573.8" font-size="11.7" fill="#262626" textLength="90.5" lengthAdjust="spacingAndGlyphs" font-family="'DejaVu Sans', Verdana, sans-serif">Quasimodo line</text>
<rect x="1445" y="380" width="49" height="16" fill="#ff0000"/>
<rect x="1445" y="387" width="3" height="1" fill="#ffffff"/>
<text x="1452.3" y="391.8" font-size="11" fill="#ffffff" font-weight="bold" textLength="36.6" lengthAdjust="spacingAndGlyphs" font-family="'Liberation Sans', Arial, sans-serif">118.200</text>
<rect x="1445" y="483" width="49" height="16" fill="#ff0000"/>
<rect x="1445" y="490" width="3" height="1" fill="#ffffff"/>
<text x="1452.3" y="494.8" font-size="11" fill="#ffffff" font-weight="bold" textLength="36.6" lengthAdjust="spacingAndGlyphs" font-family="'Liberation Sans', Arial, sans-serif">111.818</text>
</svg></body></html>
